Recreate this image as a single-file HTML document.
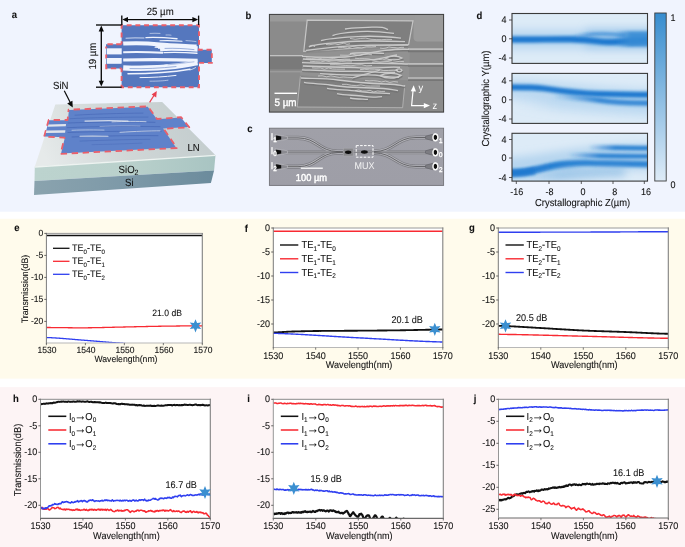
<!DOCTYPE html>
<html lang="en"><head><meta charset="utf-8"><title>Figure</title>
<style>
html,body{margin:0;padding:0;background:#fff;}
body{width:685px;height:547px;overflow:hidden;font-family:"Liberation Sans", sans-serif;}
svg{display:block;position:absolute;left:0;top:0;}
text{white-space:pre;text-rendering:geometricPrecision;}
text:not([fill]){stroke:#111;stroke-width:0.08px;}
</style></head>
<body>
<svg width="685" height="547" viewBox="0 0 685 547" font-family='"Liberation Sans", sans-serif' fill="#111">
<rect x="0" y="0" width="685" height="547" fill="#fff"/>
<rect x="0" y="0" width="685" height="211.7" fill="#f0f4fe"/>
<rect x="0" y="218.8" width="685" height="159.8" fill="#fffbec"/>
<rect x="0" y="387.1" width="685" height="160" fill="#fdf4f5"/>
<g id="pa">
<defs>
<linearGradient id="lnTop" gradientUnits="userSpaceOnUse" x1="185" y1="105" x2="50" y2="168"><stop offset="0" stop-color="#c5cecf"/><stop offset="0.5" stop-color="#d0d7d7"/><stop offset="1" stop-color="#e6eaea"/></linearGradient>
<linearGradient id="sio2" gradientUnits="userSpaceOnUse" x1="35" y1="0" x2="215" y2="0"><stop offset="0" stop-color="#bcd3ce"/><stop offset="0.5" stop-color="#bad1cc"/><stop offset="1" stop-color="#a8c4c2"/></linearGradient>
<linearGradient id="sil" gradientUnits="userSpaceOnUse" x1="35" y1="0" x2="215" y2="0"><stop offset="0" stop-color="#8aa3ae"/><stop offset="0.5" stop-color="#7d99a8"/><stop offset="1" stop-color="#6b8b9c"/></linearGradient>
<filter id="soft" filterUnits="userSpaceOnUse" x="0" y="0" width="240" height="211"><feGaussianBlur stdDeviation="0.45"/></filter>
</defs>
<g filter="url(#soft)">
<polygon points="55.3,104.6 162.2,102.1 215.5,155.2 34.8,166.8" fill="url(#lnTop)"/>
<polygon points="34.8,166.6 215.5,155 214.1,170.5 34.5,181" fill="url(#sio2)"/>
<polygon points="34.5,181 214.1,170.5 210.9,183.1 34,195" fill="url(#sil)"/>
<polyline points="34.8,167 215.5,155.3" fill="none" stroke="#eef3f1" stroke-width="1.3"/>
<polygon points="68.92,110.04 147.73,106.76 156.93,119.36 181.04,117.56 188.6,127.08 163.06,128.38 176.16,147.68 61.05,153.53 64.94,137.27 44.55,136.47 48.97,120.35 67.92,120.35" fill="#5f82ca"/>
<polygon points="68.6,109.7 147.9,106.4 157.1,119 181.2,117.2 189.3,127.4 163.7,128.7 176.8,148 60.6,153.9 64.5,137.6 44.1,136.8 48.7,120 67.6,120" fill="none" stroke="#ea5f6b" stroke-width="1.8" stroke-dasharray="6.4 4.6" stroke-dashoffset="-5" stroke-linejoin="round"/>
<polygon points="48.4,124.4 66,124 65.8,126.3 47.8,126.7" fill="#e0e5ec"/>
<polygon points="46.4,130.6 65.4,130.3 65.1,132.8 45.8,133.1" fill="#e0e5ec"/>
<g id="slabstreaks" transform="translate(0 0.7)">
<path d="M75 114.5 C95 113.3 120 112.6 143 112.4" fill="none" stroke="#4263b4" stroke-width="0.7" stroke-opacity="0.8" stroke-linecap="round"/>
<path d="M70 118 C90 117 125 116.3 148 116.4" fill="none" stroke="#4263b4" stroke-width="0.7" stroke-opacity="0.7" stroke-linecap="round"/>
<path d="M68 122.3 C95 121.3 130 121.2 155 121.6" fill="none" stroke="#4263b4" stroke-width="0.8" stroke-opacity="0.8" stroke-linecap="round"/>
<path d="M67 127 C95 125.6 135 125.6 160 126" fill="none" stroke="#4263b4" stroke-width="0.8" stroke-opacity="0.8" stroke-linecap="round"/>
<path d="M68 131.8 C100 130.6 135 130.4 161 130.8" fill="none" stroke="#4263b4" stroke-width="0.8" stroke-opacity="0.8" stroke-linecap="round"/>
<path d="M72 136.3 C100 135.3 135 134.6 158 135" fill="none" stroke="#4263b4" stroke-width="0.8" stroke-opacity="0.8" stroke-linecap="round"/>
<path d="M80 140.4 C105 139.4 130 138.8 150 138.6" fill="none" stroke="#4263b4" stroke-width="0.7" stroke-opacity="0.7" stroke-linecap="round"/>
<path d="M92 144 C110 143.6 128 143 142 142.4" fill="none" stroke="#4263b4" stroke-width="0.6" stroke-opacity="0.6" stroke-linecap="round"/>
<path d="M85 120.4 C100 119.8 118 119.8 128 120.4" fill="none" stroke="#e4e8ee" stroke-width="1.2" stroke-opacity="0.85" stroke-linecap="round"/>
<path d="M112 121.2 C125 120.6 138 120.6 146 121" fill="none" stroke="#e4e8ee" stroke-width="1" stroke-opacity="0.7" stroke-linecap="round"/>
<path d="M72 129.6 C85 129 95 129.2 104 129.4" fill="none" stroke="#e4e8ee" stroke-width="0.9" stroke-opacity="0.6" stroke-linecap="round"/>
<path d="M80 135.6 C90 135.2 100 135.4 108 135.6" fill="none" stroke="#e4e8ee" stroke-width="1.1" stroke-opacity="0.8" stroke-linecap="round"/>
<path d="M120 131.6 C135 130.6 150 130.2 160 130.2" fill="none" stroke="#e4e8ee" stroke-width="1" stroke-opacity="0.7" stroke-linecap="round"/>
<path d="M100 125.8 C115 125 130 125 140 125.4" fill="none" stroke="#e4e8ee" stroke-width="0.7" stroke-opacity="0.5" stroke-linecap="round"/>
</g>
</g>
<g filter="url(#soft)">
<path d="M121.6 25.2 H199 V49.8 H211.8 V62.9 H199 V87.2 H121.6 V68.4 H106 V44.2 H121.6 Z" fill="#5577be"/>
<path d="M121.6 44.2 V25.2 H199 V49.8 H211.8 V62.9 H199 V87.2 H121.6 V68.4" fill="none" stroke="#ea5f6b" stroke-width="1.9" stroke-dasharray="4.9 3.8" stroke-dashoffset="2"/>
<path d="M121.6 44.2 H106.2 V48.6 M106.2 54.4 V58.4 M106.2 64.2 V68.4 H121.6 M113 44.2 h0.1" fill="none" stroke="#ea5f6b" stroke-width="1.9" stroke-dasharray="5.4 3.4"/>
<rect x="106.7" y="48.3" width="15" height="6.1" fill="#f0f4fe"/>
<rect x="106.7" y="58" width="15" height="5.8" fill="#f0f4fe"/>
<path d="M123.2 43.6 C135 42.8 150 43.4 160 44.4 S185 45.8 196.6 46.4" fill="none" stroke="#f0f4fe" stroke-width="4" stroke-linecap="butt" stroke-opacity="1"/>
<path d="M160 48.4 C170 47.6 185 48.2 197.6 49" fill="none" stroke="#f0f4fe" stroke-width="5.6" stroke-linecap="butt" stroke-opacity="1"/>
<path d="M156 47.6 C158 47.2 160 47.2 162 47.4" fill="none" stroke="#f0f4fe" stroke-width="3" stroke-linecap="round" stroke-opacity="1"/>
<path d="M123.2 52.2 C135 51.8 150 52 163 52.8" fill="none" stroke="#f0f4fe" stroke-width="2" stroke-linecap="butt" stroke-opacity="1"/>
<path d="M164 52.6 C175 52.2 188 52.6 197 53.2" fill="none" stroke="#f0f4fe" stroke-width="1.4" stroke-linecap="round" stroke-opacity="1"/>
<path d="M123.2 60 C150 59.4 175 59.6 197.6 60.4" fill="none" stroke="#f0f4fe" stroke-width="3.2" stroke-linecap="butt" stroke-opacity="1"/>
<path d="M123.2 67.8 C140 68.8 160 68 175 66.2 S190 63.6 197.6 62.6" fill="none" stroke="#f0f4fe" stroke-width="5.4" stroke-linecap="butt" stroke-opacity="1"/>
<path d="M128 73.8 C150 73.6 172 72.2 190 69.2" fill="none" stroke="#f0f4fe" stroke-width="1.5" stroke-linecap="round" stroke-opacity="1"/>
<path d="M140 77.6 C152 77.6 165 76.8 176 75.4" fill="none" stroke="#f0f4fe" stroke-width="1" stroke-linecap="round" stroke-opacity="1"/>
<path d="M150 81.2 C158 81.2 164 80.8 168 80.2" fill="none" stroke="#f0f4fe" stroke-width="0.7" stroke-linecap="round" stroke-opacity="0.8"/>
<path d="M126 38.2 C132 37.8 138 37.8 144 38" fill="none" stroke="#f0f4fe" stroke-width="0.9" stroke-linecap="round" stroke-opacity="0.85"/>
<path d="M146 37.6 C155 37 165 37.6 177 38.8" fill="none" stroke="#f0f4fe" stroke-width="1.4" stroke-linecap="round" stroke-opacity="1"/>
<path d="M160 40.8 C166 40.4 174 40.6 182 41.2" fill="none" stroke="#f0f4fe" stroke-width="1.1" stroke-linecap="round" stroke-opacity="1"/>
<path d="M150 33.4 C153 33.2 157 33.2 160 33.4" fill="none" stroke="#f0f4fe" stroke-width="0.7" stroke-linecap="round" stroke-opacity="0.8"/>
<path d="M166 35 C168 34.9 170 35 171 35.2" fill="none" stroke="#f0f4fe" stroke-width="0.7" stroke-linecap="round" stroke-opacity="0.8"/>
<path d="M186 40.6 C190 40.8 193 41.2 196 41.6" fill="none" stroke="#f0f4fe" stroke-width="0.7" stroke-linecap="round" stroke-opacity="0.8"/>
<path d="M190 70 C192 69.4 194 68.6 195.6 67.6" fill="none" stroke="#f0f4fe" stroke-width="0.9" stroke-linecap="round" stroke-opacity="0.8"/>
<path d="M122 48.6 C135 48 148 48.2 158 49.2" fill="none" stroke="#5577be" stroke-width="2.4" stroke-linecap="butt" stroke-opacity="1"/>
<path d="M122 56.2 C150 55.6 180 56 200 56.6" fill="none" stroke="#5577be" stroke-width="3" stroke-linecap="butt" stroke-opacity="1"/>
<path d="M122 64.4 C135 64.6 150 64.2 164 63.4" fill="none" stroke="#5577be" stroke-width="1.8" stroke-linecap="round" stroke-opacity="1"/>
<path d="M165 48.4 C175 48 185 48.6 194 49.6" fill="none" stroke="#5577be" stroke-width="0.7" stroke-linecap="round" stroke-opacity="0.8"/>
<path d="M130 68.6 C145 69 160 68.2 176 66.6" fill="none" stroke="#5577be" stroke-width="0.7" stroke-linecap="round" stroke-opacity="0.8"/>
<path d="M168 64.8 C178 63.8 186 62.8 194 61.8" fill="none" stroke="#5577be" stroke-width="0.6" stroke-linecap="round" stroke-opacity="0.7"/>
</g>
<g stroke="#0a0a0a" stroke-width="1.35" fill="none">
<line x1="121.8" y1="15.6" x2="121.8" y2="25"/><line x1="198.6" y1="15.6" x2="198.6" y2="25"/>
<line x1="124" y1="19.6" x2="196.4" y2="19.6"/>
<line x1="96" y1="25" x2="121.6" y2="25"/><line x1="96" y1="87.2" x2="121.6" y2="87.2"/>
<line x1="101.3" y1="28" x2="101.3" y2="84"/>
</g>
<g fill="#0a0a0a">
<polygon points="122.3,19.6 128,17 128,22.2"/><polygon points="198.1,19.6 192.4,17 192.4,22.2"/>
<polygon points="101.3,25.6 98.7,31.4 103.9,31.4"/><polygon points="101.3,86.6 98.7,80.8 103.9,80.8"/>
</g>
<text transform="translate(160.2 15.4) scale(1 1.08)" font-size="9.6" text-anchor="middle">25 µm</text>
<text transform="translate(95.6 56.2) rotate(-90) scale(1 1.08)" font-size="9.6" text-anchor="middle">19 µm</text>
<text transform="translate(53 88.8) scale(1 1.08)" font-size="9.6">SiN</text>
<line x1="64.3" y1="90.8" x2="70.6" y2="103.2" stroke="#0a0a0a" stroke-width="1.2"/>
<polygon points="72.8,107.4 67.2,103.6 72.4,100.8" fill="#0a0a0a"/>
<line x1="149.6" y1="102.4" x2="154.4" y2="94.8" stroke="#e8404f" stroke-width="1.2"/>
<polygon points="156.8,91 156.2,97.4 151.6,94.4" fill="#e8404f"/>
<text transform="translate(187.4 151.3) scale(1 1.08)" font-size="9.5">LN</text>
<text transform="translate(118.6 172.6) scale(1 1.08)" font-size="9.6">SiO<tspan dy="1.9" font-size="7">2</tspan></text>
<text transform="translate(125 185.9) scale(1 1.08)" font-size="9.6">Si</text>
<text transform="translate(14.3 18.2) scale(1 1.08)" font-size="9.5" font-weight="bold" text-anchor="middle">a</text>
</g>
<g id="pb">
<defs>
<filter id="sb" filterUnits="userSpaceOnUse" x="260" y="5" width="195" height="115"><feGaussianBlur stdDeviation="0.55"/></filter>
<filter id="sb2" filterUnits="userSpaceOnUse" x="260" y="5" width="195" height="115"><feGaussianBlur stdDeviation="1.6"/></filter>
<clipPath id="cb"><rect x="269.4" y="14.4" width="174.2" height="97.7"/></clipPath>
</defs>
<rect x="269.4" y="14.4" width="174.2" height="97.7" fill="#8b8b8b"/>
<g clip-path="url(#cb)">
<g filter="url(#sb)">
<path d="M413.5 14 L444 14 L444 41.6 L417 41.6 Q413.5 41 413.5 37 Z" fill="#9b9b9b"/>
<path d="M269 13 H415 V21.4 H269 Z" fill="#9a9a9a"/>
</g>
<g filter="url(#sb)">
<polygon points="307.2,20.2 413,20.8 408.6,44.6 303.8,51.4" fill="#7f7f7f" stroke="#c6c6c6" stroke-width="1.2"/>
<polygon points="300.4,76.3 404.8,85 402.6,107.7 297.2,107" fill="#7f7f7f" stroke="none"/>
<polyline points="300.4,76.3 297.2,107 402.6,107.7 404.8,85" fill="none" stroke="#b4b4b4" stroke-width="0.9"/>
<path d="M303 54 C330 52 370 48 410 48 L409 80 C380 80 330 78 300 75 Z" fill="#929292"/>
<rect x="269.4" y="56.4" width="33" height="13" fill="#7a7a7a"/>
<line x1="269.4" y1="55.6" x2="303" y2="55.6" stroke="#c2c2c2" stroke-width="1.1"/>
<line x1="269.4" y1="71.8" x2="302" y2="71.8" stroke="#a2a2a2" stroke-width="1"/>
<line x1="408" y1="49.2" x2="444" y2="49.2" stroke="#bdbdbd" stroke-width="1.7"/>
<line x1="408" y1="51.4" x2="444" y2="51.4" stroke="#767676" stroke-width="1.6"/>
<line x1="408" y1="63.8" x2="444" y2="63.8" stroke="#bdbdbd" stroke-width="1.7"/>
<line x1="408" y1="66" x2="444" y2="66" stroke="#767676" stroke-width="1.6"/>
<line x1="408" y1="78" x2="444" y2="78" stroke="#bdbdbd" stroke-width="1.7"/>
<line x1="408" y1="80.2" x2="444" y2="80.2" stroke="#767676" stroke-width="1.6"/>
<path d="M345 29 C352 27.4 362 27.8 372 27.2 S384 27.6 388 29.6" fill="none" stroke="#707070" stroke-width="1.8" stroke-opacity="0.75" transform="translate(0.3 1.3)"/>
<path d="M332.5 35.6 C338 33 350 32.4 360 31.6 S382 31.8 394 33.4" fill="none" stroke="#707070" stroke-width="1.8" stroke-opacity="0.75" transform="translate(0.3 1.3)"/>
<path d="M321 40.6 C330 38 345 37.4 358 36.6 S385 36.4 401 38.2" fill="none" stroke="#707070" stroke-width="1.8" stroke-opacity="0.75" transform="translate(0.3 1.3)"/>
<path d="M309 46.8 C316 43.6 330 43.4 345 42 S380 40.8 405 41.6" fill="none" stroke="#707070" stroke-width="1.8" stroke-opacity="0.75" transform="translate(0.3 1.3)"/>
<path d="M306 50.4 C318 48.6 335 46.8 352 45.8 S385 45 408 45" fill="none" stroke="#707070" stroke-width="1.8" stroke-opacity="0.75" transform="translate(0.3 1.3)"/>
<path d="M309 46.8 C311 45 313 45 315 46.6" fill="none" stroke="#707070" stroke-width="1.8" stroke-opacity="0.75" transform="translate(0.3 1.3)"/>
<path d="M302 56.4 C315 57.4 330 57.8 345 57 S370 52 385 50.4 S400 49 409 49.4" fill="none" stroke="#707070" stroke-width="1.8" stroke-opacity="0.75" transform="translate(0.3 1.3)"/>
<path d="M303 59 C320 60.4 340 60 360 60.4 S385 57 397 55" fill="none" stroke="#707070" stroke-width="1.8" stroke-opacity="0.75" transform="translate(0.3 1.3)"/>
<path d="M302 62.6 C320 63.2 345 63.8 365 63.4 S395 63.6 408 64" fill="none" stroke="#707070" stroke-width="1.8" stroke-opacity="0.75" transform="translate(0.3 1.3)"/>
<path d="M303 66 C320 67.4 340 66.6 360 67.8 S385 66.4 400 67.4" fill="none" stroke="#707070" stroke-width="1.8" stroke-opacity="0.75" transform="translate(0.3 1.3)"/>
<path d="M302 69.8 C318 70.6 335 71.8 355 71.4 S380 73.4 395 72.6" fill="none" stroke="#707070" stroke-width="1.8" stroke-opacity="0.75" transform="translate(0.3 1.3)"/>
<path d="M320 73.6 C335 74.4 350 75.6 365 75 S385 77.6 399 77.4" fill="none" stroke="#707070" stroke-width="1.8" stroke-opacity="0.75" transform="translate(0.3 1.3)"/>
<path d="M350 53.6 C360 52 372 52.8 384 53.4" fill="none" stroke="#707070" stroke-width="1.8" stroke-opacity="0.75" transform="translate(0.3 1.3)"/>
<path d="M352 78 C362 75 372 72.4 380 70" fill="none" stroke="#707070" stroke-width="1.8" stroke-opacity="0.75" transform="translate(0.3 1.3)"/>
<path d="M385 58 C390 55.6 398 55.6 402 58 C398 60.6 390 60.6 385 58 Z" fill="none" stroke="#707070" stroke-width="1.8" stroke-opacity="0.75" transform="translate(0.3 1.3)"/>
<path d="M380 75.6 C386 72.4 396 72.8 401 75.4 C396 79 386 79 380 75.6 Z" fill="none" stroke="#707070" stroke-width="1.8" stroke-opacity="0.75" transform="translate(0.3 1.3)"/>
<path d="M396 70 C398 68.4 401 68.6 402 70.4 C401 72.4 398 72.4 396 70 Z" fill="none" stroke="#707070" stroke-width="1.8" stroke-opacity="0.75" transform="translate(0.3 1.3)"/>
<path d="M301 78 C312 78.6 325 78.2 338 80 S370 83.4 385 84 S398 85 405 86" fill="none" stroke="#707070" stroke-width="1.8" stroke-opacity="0.75" transform="translate(0.3 1.3)"/>
<path d="M304 82.4 C312 84 322 83.6 330 85 S355 87.6 372 88 S390 89.6 398 90.6" fill="none" stroke="#707070" stroke-width="1.8" stroke-opacity="0.75" transform="translate(0.3 1.3)"/>
<path d="M327 88.4 C336 90 348 89.8 358 91.4 S380 93 390 93.6" fill="none" stroke="#707070" stroke-width="1.8" stroke-opacity="0.75" transform="translate(0.3 1.3)"/>
<path d="M337 93.6 C345 95.4 355 95 364 96.4 S376 97 382 96.6" fill="none" stroke="#707070" stroke-width="1.8" stroke-opacity="0.75" transform="translate(0.3 1.3)"/>
<path d="M350 98 C356 99.2 362 99 368 99.4" fill="none" stroke="#707070" stroke-width="1.8" stroke-opacity="0.75" transform="translate(0.3 1.3)"/>
<path d="M345 29 C352 27.4 362 27.8 372 27.2 S384 27.6 388 29.6" fill="none" stroke="#cacaca" stroke-width="1.3"/>
<path d="M332.5 35.6 C338 33 350 32.4 360 31.6 S382 31.8 394 33.4" fill="none" stroke="#cacaca" stroke-width="1.3"/>
<path d="M321 40.6 C330 38 345 37.4 358 36.6 S385 36.4 401 38.2" fill="none" stroke="#cacaca" stroke-width="1.3"/>
<path d="M309 46.8 C316 43.6 330 43.4 345 42 S380 40.8 405 41.6" fill="none" stroke="#cacaca" stroke-width="1.3"/>
<path d="M306 50.4 C318 48.6 335 46.8 352 45.8 S385 45 408 45" fill="none" stroke="#cacaca" stroke-width="1.3"/>
<path d="M309 46.8 C311 45 313 45 315 46.6" fill="none" stroke="#cacaca" stroke-width="1.3"/>
<path d="M302 56.4 C315 57.4 330 57.8 345 57 S370 52 385 50.4 S400 49 409 49.4" fill="none" stroke="#cacaca" stroke-width="1.3"/>
<path d="M303 59 C320 60.4 340 60 360 60.4 S385 57 397 55" fill="none" stroke="#cacaca" stroke-width="1.3"/>
<path d="M302 62.6 C320 63.2 345 63.8 365 63.4 S395 63.6 408 64" fill="none" stroke="#cacaca" stroke-width="1.3"/>
<path d="M303 66 C320 67.4 340 66.6 360 67.8 S385 66.4 400 67.4" fill="none" stroke="#cacaca" stroke-width="1.3"/>
<path d="M302 69.8 C318 70.6 335 71.8 355 71.4 S380 73.4 395 72.6" fill="none" stroke="#cacaca" stroke-width="1.3"/>
<path d="M320 73.6 C335 74.4 350 75.6 365 75 S385 77.6 399 77.4" fill="none" stroke="#cacaca" stroke-width="1.3"/>
<path d="M350 53.6 C360 52 372 52.8 384 53.4" fill="none" stroke="#cacaca" stroke-width="1.3"/>
<path d="M352 78 C362 75 372 72.4 380 70" fill="none" stroke="#cacaca" stroke-width="1.3"/>
<path d="M385 58 C390 55.6 398 55.6 402 58 C398 60.6 390 60.6 385 58 Z" fill="none" stroke="#cacaca" stroke-width="1.3"/>
<path d="M380 75.6 C386 72.4 396 72.8 401 75.4 C396 79 386 79 380 75.6 Z" fill="none" stroke="#cacaca" stroke-width="1.3"/>
<path d="M396 70 C398 68.4 401 68.6 402 70.4 C401 72.4 398 72.4 396 70 Z" fill="none" stroke="#cacaca" stroke-width="1.3"/>
<path d="M301 78 C312 78.6 325 78.2 338 80 S370 83.4 385 84 S398 85 405 86" fill="none" stroke="#cacaca" stroke-width="1.3"/>
<path d="M304 82.4 C312 84 322 83.6 330 85 S355 87.6 372 88 S390 89.6 398 90.6" fill="none" stroke="#cacaca" stroke-width="1.3"/>
<path d="M327 88.4 C336 90 348 89.8 358 91.4 S380 93 390 93.6" fill="none" stroke="#cacaca" stroke-width="1.3"/>
<path d="M337 93.6 C345 95.4 355 95 364 96.4 S376 97 382 96.6" fill="none" stroke="#cacaca" stroke-width="1.3"/>
<path d="M350 98 C356 99.2 362 99 368 99.4" fill="none" stroke="#cacaca" stroke-width="1.3"/>
<path d="M306 58.05 L311.5 58.44 L317 58.09 L322.5 58.77 L328 58.98 L333.5 58.5 L339 59.66 L344.5 59.09 L350 59.16" fill="none" stroke="#d2d2d2" stroke-width="0.9" stroke-opacity="0.85"/>
<path d="M310 61.22 L315.25 61.65 L320.5 61.95 L325.75 60.93 L331 61.93 L336.25 62.19 L341.5 61.6 L346.75 62.03 L352 61.91" fill="none" stroke="#d2d2d2" stroke-width="0.9" stroke-opacity="0.85"/>
<path d="M330 64.7 L335.25 64.68 L340.5 65.01 L345.75 65.5 L351 65.8 L356.25 65 L361.5 64.68 L366.75 65.88 L372 65.52" fill="none" stroke="#d2d2d2" stroke-width="0.9" stroke-opacity="0.85"/>
<path d="M355 58.18 L359.62 58.68 L364.25 58.65 L368.88 58.88 L373.5 60.39 L378.12 59.71 L382.75 59.2 L387.38 60.26 L392 60.64" fill="none" stroke="#d2d2d2" stroke-width="0.9" stroke-opacity="0.85"/>
<path d="M360 69.61 L364.75 69.28 L369.5 69.84 L374.25 69.73 L379 69.39 L383.75 70.59 L388.5 70.44 L393.25 70.18 L398 70.43" fill="none" stroke="#d2d2d2" stroke-width="0.9" stroke-opacity="0.85"/>
<path d="M312 67.85 L316.12 68.16 L320.25 67.96 L324.38 69.21 L328.5 68 L332.62 68.96 L336.75 69.08 L340.88 69.13 L345 69.13" fill="none" stroke="#d2d2d2" stroke-width="0.9" stroke-opacity="0.85"/>
<path d="M340 55.12 L344 55.22 L348 55.25 L352 54.09 L356 54.8 L360 55.47 L364 54.41 L368 54.26 L372 54.72" fill="none" stroke="#d2d2d2" stroke-width="0.9" stroke-opacity="0.85"/>
<path d="M372 62.31 L376 61.55 L380 62.23 L384 61.72 L388 61.54 L392 62.48 L396 61.85 L400 61.25 L404 61.74" fill="none" stroke="#d2d2d2" stroke-width="0.9" stroke-opacity="0.85"/>
<path d="M318 76 L322.25 75.63 L326.5 76.85 L330.75 75.83 L335 76.6 L339.25 77.41 L343.5 76.84 L347.75 77.31 L352 77.56" fill="none" stroke="#d2d2d2" stroke-width="0.9" stroke-opacity="0.85"/>
<path d="M365 80.4 L369.12 80.86 L373.25 80.61 L377.38 81.06 L381.5 81.95 L385.62 81.08 L389.75 82.47 L393.88 81.57 L398 82.07" fill="none" stroke="#d2d2d2" stroke-width="0.9" stroke-opacity="0.85"/>
<path d="M338 47.78 L342.75 47.46 L347.5 48.1 L352.25 46.49 L357 47.39 L361.75 48.01 L366.5 46.65 L371.25 46.83 L376 46.56" fill="none" stroke="#d2d2d2" stroke-width="0.9" stroke-opacity="0.85"/>
<path d="M350 38.42 L355.25 39.28 L360.5 38.49 L365.75 38.15 L371 39.25 L376.25 39.6 L381.5 39.69 L386.75 39.37 L392 39.46" fill="none" stroke="#d2d2d2" stroke-width="0.9" stroke-opacity="0.85"/>
<path d="M326 44.48 L329 44.83 L332 44.31 L335 43.88 L338 44.64 L341 43.9 L344 43.1 L347 44.33 L350 43.8" fill="none" stroke="#d2d2d2" stroke-width="0.9" stroke-opacity="0.85"/>
<path d="M380 48.08 L383 48.45 L386 48.02 L389 46.95 L392 47.5 L395 47.61 L398 48.05 L401 47.33 L404 47.33" fill="none" stroke="#d2d2d2" stroke-width="0.9" stroke-opacity="0.85"/>
<path d="M342 84.4 L346.75 84.35 L351.5 85.33 L356.25 85.64 L361 84.85 L365.75 85.94 L370.5 86.08 L375.25 86 L380 86.06" fill="none" stroke="#d2d2d2" stroke-width="0.9" stroke-opacity="0.85"/>
<path d="M355 90.69 L358.75 90.03 L362.5 91.07 L366.25 91.06 L370 90.33 L373.75 92 L377.5 90.96 L381.25 91.48 L385 91.37" fill="none" stroke="#d2d2d2" stroke-width="0.9" stroke-opacity="0.85"/>
</g>
</g>
<rect x="269.4" y="14.4" width="174.2" height="97.7" fill="none" stroke="#3e3e3e" stroke-width="1"/>
<line x1="274.5" y1="93.3" x2="297" y2="93.3" stroke="#fff" stroke-width="1.4"/>
<text transform="translate(274.4 106.2) scale(1 1.08)" font-size="9.9" fill="#fff" stroke="#fff" stroke-width="0.35">5 µm</text>
<polyline points="413.2,89 411.6,105.6 425,105.6" fill="none" stroke="#fff" stroke-width="1.2"/>
<polygon points="413.7,85.2 416,91.6 410.8,91.2" fill="#fff"/>
<polygon points="430,105.6 423.8,103 423.8,108.2" fill="#fff"/>
<text transform="translate(418.6 91.4) scale(1 1.08)" font-size="9.4" fill="#fff">y</text>
<text transform="translate(432.4 109.2) scale(1 1.08)" font-size="9.4" fill="#fff">z</text>
<text transform="translate(248.3 18.6) scale(1 1.08)" font-size="9.5" font-weight="bold" text-anchor="middle">b</text>
</g>
<g id="pc">
<defs>
<filter id="sc" filterUnits="userSpaceOnUse" x="260" y="120" width="195" height="75"><feGaussianBlur stdDeviation="0.5"/></filter>
<linearGradient id="cbgc" x1="0" y1="0" x2="0" y2="1"><stop offset="0" stop-color="#a0a0a8"/><stop offset="1" stop-color="#9e9ea7"/></linearGradient>
</defs>
<rect x="269.4" y="128.2" width="174.2" height="57.2" fill="url(#cbgc)" stroke="#737378" stroke-width="0.9"/>
<g filter="url(#sc)">
<path d="M284 137.9 H298 C317 137.9 319 151.4 338 151.6 H343" fill="none" stroke="#74747a" stroke-width="4.2" stroke-opacity="0.75"/>
<path d="M284 152.1 H345" fill="none" stroke="#74747a" stroke-width="4.2" stroke-opacity="0.75"/>
<path d="M284 166.7 H298 C317 166.7 319 152.8 338 152.6 H343" fill="none" stroke="#74747a" stroke-width="4.2" stroke-opacity="0.75"/>
<path d="M374 151.6 C394 151.4 396 137.5 416 137.5 H431" fill="none" stroke="#74747a" stroke-width="4.2" stroke-opacity="0.75"/>
<path d="M353 152.1 H431" fill="none" stroke="#74747a" stroke-width="4.2" stroke-opacity="0.75"/>
<path d="M374 152.8 C394 153 396 166.5 416 166.5 H431" fill="none" stroke="#74747a" stroke-width="4.2" stroke-opacity="0.75"/>
<path d="M284 137.9 H298 C317 137.9 319 151.4 338 151.6 H343" fill="none" stroke="#b4b4ba" stroke-width="2.6"/>
<path d="M284 152.1 H345" fill="none" stroke="#b4b4ba" stroke-width="2.6"/>
<path d="M284 166.7 H298 C317 166.7 319 152.8 338 152.6 H343" fill="none" stroke="#b4b4ba" stroke-width="2.6"/>
<path d="M374 151.6 C394 151.4 396 137.5 416 137.5 H431" fill="none" stroke="#b4b4ba" stroke-width="2.6"/>
<path d="M353 152.1 H431" fill="none" stroke="#b4b4ba" stroke-width="2.6"/>
<path d="M374 152.8 C394 153 396 166.5 416 166.5 H431" fill="none" stroke="#b4b4ba" stroke-width="2.6"/>
<path d="M284 137.9 H298 C317 137.9 319 151.4 338 151.6 H343" fill="none" stroke="#5c5c60" stroke-width="0.9"/>
<path d="M284 152.1 H345" fill="none" stroke="#5c5c60" stroke-width="0.9"/>
<path d="M284 166.7 H298 C317 166.7 319 152.8 338 152.6 H343" fill="none" stroke="#5c5c60" stroke-width="0.9"/>
<path d="M374 151.6 C394 151.4 396 137.5 416 137.5 H431" fill="none" stroke="#5c5c60" stroke-width="0.9"/>
<path d="M353 152.1 H431" fill="none" stroke="#5c5c60" stroke-width="0.9"/>
<path d="M374 152.8 C394 153 396 166.5 416 166.5 H431" fill="none" stroke="#5c5c60" stroke-width="0.9"/>
<polygon points="275,134.4 287.5,136.6 287.5,139.2 275,141.4" fill="#8a8a90" stroke="#b6b6bb" stroke-width="0.7"/>
<polygon points="276.1,135.5 281.2,136.4 281.2,139.4 276.1,140.3" fill="#0a0a0a"/>
<polygon points="275,148.6 287.5,150.8 287.5,153.4 275,155.6" fill="#8a8a90" stroke="#b6b6bb" stroke-width="0.7"/>
<polygon points="276.1,149.7 281.2,150.6 281.2,153.6 276.1,154.5" fill="#0a0a0a"/>
<polygon points="275,163.2 287.5,165.4 287.5,168 275,170.2" fill="#8a8a90" stroke="#b6b6bb" stroke-width="0.7"/>
<polygon points="276.1,164.3 281.2,165.2 281.2,168.2 276.1,169.1" fill="#0a0a0a"/>
<rect x="343.2" y="148.2" width="10" height="7.8" fill="#88888c" stroke="#a8a8ac" stroke-width="0.6"/>
<ellipse cx="348.2" cy="152.2" rx="3.2" ry="1.7" fill="#0c0c0c"/>
<ellipse cx="364.4" cy="152" rx="3.4" ry="1.7" fill="#0c0c0c"/>
<polygon points="425.5,136.3 432.6,134.3 432.6,140.7 425.5,138.7" fill="#7c7c82" stroke="#606066" stroke-width="0.6"/>
<ellipse cx="435.4" cy="137.5" rx="2.6" ry="3.2" fill="#0a0a0a"/>
<polygon points="425.5,150.8 432.6,148.8 432.6,155.2 425.5,153.2" fill="#7c7c82" stroke="#606066" stroke-width="0.6"/>
<ellipse cx="435.4" cy="152" rx="2.6" ry="3.2" fill="#0a0a0a"/>
<polygon points="425.5,165.3 432.6,163.3 432.6,169.7 425.5,167.7" fill="#7c7c82" stroke="#606066" stroke-width="0.6"/>
<ellipse cx="435.4" cy="166.5" rx="2.6" ry="3.2" fill="#0a0a0a"/>
</g>
<rect x="356.2" y="145.6" width="16.8" height="11.6" fill="none" stroke="#fff" stroke-width="1" stroke-dasharray="2.6 1.3"/>
<text transform="translate(364.6 169.3) scale(1 1.08)" font-size="9" fill="#f4f4f4" text-anchor="middle">MUX</text>
<line x1="300.8" y1="168.2" x2="322.8" y2="168.2" stroke="#fff" stroke-width="1.3"/>
<text transform="translate(311.4 181) scale(1 1.08)" font-size="9.3" fill="#fff" stroke="#fff" stroke-width="0.4" text-anchor="middle">100 µm</text>
<text transform="translate(270.7 139.8) scale(1 1.08)" font-size="9" fill="#fff" stroke="#fff" stroke-width="0.25">I<tspan dy="2" font-size="6.3">1</tspan></text>
<text transform="translate(270.7 154) scale(1 1.08)" font-size="9" fill="#fff" stroke="#fff" stroke-width="0.25">I<tspan dy="2" font-size="6.3">0</tspan></text>
<text transform="translate(270.7 168.6) scale(1 1.08)" font-size="9" fill="#fff" stroke="#fff" stroke-width="0.25">I<tspan dy="2" font-size="6.3">2</tspan></text>
<text transform="translate(435.45 141.15) scale(0.84 1.1)" text-anchor="middle" font-size="9.6" fill="#fff" stroke="#fff" stroke-width="0.55">O</text>
<text transform="translate(435.45 155.65) scale(0.84 1.1)" text-anchor="middle" font-size="9.6" fill="#fff" stroke="#fff" stroke-width="0.55">O</text>
<text transform="translate(435.45 170.15) scale(0.84 1.1)" text-anchor="middle" font-size="9.6" fill="#fff" stroke="#fff" stroke-width="0.55">O</text>
<text transform="translate(439 142.7) scale(1 1.08)" font-size="6.3" fill="#fff" stroke="#fff" stroke-width="0.25">1</text>
<text transform="translate(439 157.2) scale(1 1.08)" font-size="6.3" fill="#fff" stroke="#fff" stroke-width="0.25">0</text>
<text transform="translate(439 171.7) scale(1 1.08)" font-size="6.3" fill="#fff" stroke="#fff" stroke-width="0.25">2</text>
<text transform="translate(250 132.2) scale(1 1.08)" font-size="9.5" font-weight="bold" text-anchor="middle">c</text>
</g>
<g id="pd">
<defs><filter id="hb" filterUnits="userSpaceOnUse" x="490" y="0" width="180" height="200"><feGaussianBlur stdDeviation="1.7"/></filter><filter id="hb2" filterUnits="userSpaceOnUse" x="490" y="0" width="180" height="200"><feGaussianBlur stdDeviation="4"/></filter><linearGradient id="cbg" x1="0" y1="0" x2="0" y2="1"><stop offset="0" stop-color="#378dcf"/><stop offset="0.5" stop-color="#8bbce2"/><stop offset="1" stop-color="#deebf7"/></linearGradient></defs>
<defs><linearGradient id="g0" gradientUnits="userSpaceOnUse" x1="570" y1="0" x2="590" y2="0"><stop offset="0" stop-color="#1b78cf" stop-opacity="0"/><stop offset="1" stop-color="#1b78cf" stop-opacity="0.6"/></linearGradient><linearGradient id="g1" gradientUnits="userSpaceOnUse" x1="615" y1="0" x2="630" y2="0"><stop offset="0" stop-color="#348ad4" stop-opacity="0"/><stop offset="1" stop-color="#348ad4" stop-opacity="0.9"/></linearGradient><linearGradient id="g2" gradientUnits="userSpaceOnUse" x1="553" y1="0" x2="600" y2="0"><stop offset="0" stop-color="#1b78cf" stop-opacity="0"/><stop offset="1" stop-color="#1b78cf" stop-opacity="0.95"/></linearGradient><linearGradient id="g3" gradientUnits="userSpaceOnUse" x1="512" y1="0" x2="560" y2="0"><stop offset="0" stop-color="#8fc0e8" stop-opacity="0"/><stop offset="1" stop-color="#8fc0e8" stop-opacity="0.3"/></linearGradient><linearGradient id="g4" gradientUnits="userSpaceOnUse" x1="580" y1="0" x2="545" y2="0"><stop offset="0" stop-color="#1b78cf" stop-opacity="0"/><stop offset="1" stop-color="#1b78cf" stop-opacity="0.6"/></linearGradient><linearGradient id="g5" gradientUnits="userSpaceOnUse" x1="568" y1="0" x2="600" y2="0"><stop offset="0" stop-color="#1b78cf" stop-opacity="0"/><stop offset="1" stop-color="#1b78cf" stop-opacity="0.9"/></linearGradient><linearGradient id="g6" gradientUnits="userSpaceOnUse" x1="588" y1="0" x2="615" y2="0"><stop offset="0" stop-color="#1b78cf" stop-opacity="0"/><stop offset="1" stop-color="#1b78cf" stop-opacity="0.9"/></linearGradient><linearGradient id="g7" gradientUnits="userSpaceOnUse" x1="530" y1="0" x2="560" y2="0"><stop offset="0" stop-color="#5a9fd8" stop-opacity="0"/><stop offset="1" stop-color="#5a9fd8" stop-opacity="0.5"/></linearGradient></defs>
<clipPath id="cd0"><rect x="512" y="13.5" width="135.5" height="49.9"/></clipPath>
<rect x="512" y="13.5" width="135.5" height="49.9" fill="#ddebf7"/>
<g clip-path="url(#cd0)">
<g filter="url(#hb2)"><path d="M505 39.5 L655 39.5" fill="none" stroke="#8fc0e8" stroke-width="20" stroke-opacity="0.45" stroke-linecap="butt"/></g>
<g filter="url(#hb2)"><path d="M585 38.5 L655 38.5" fill="none" stroke="#8fc0e8" stroke-width="20" stroke-opacity="0.5" stroke-linecap="butt"/></g>
<g filter="url(#hb)"><path d="M505 39.3 C530 40 550 39 570 39.2 C585 39.3 595 41.6 608 42 C620 42.3 630 40.5 655 39.8" fill="none" stroke="#1b78cf" stroke-width="6.4" stroke-opacity="1" stroke-linecap="butt"/></g>
<g filter="url(#hb)"><path d="M570 37.5 C588 33.2 605 32.8 626 35.5" fill="none" stroke="url(#g0)" stroke-width="3.6"/></g>
<g filter="url(#hb)"><path d="M615 39 L655 39" fill="none" stroke="url(#g1)" stroke-width="15.5"/></g>
</g>
<rect x="512" y="13.5" width="135.5" height="49.9" fill="none" stroke="#3a3a3a" stroke-width="1.1"/>
<line x1="509" x2="512" y1="20" y2="20" stroke="#333" stroke-width="0.8"/>
<text transform="translate(506.5 23.25) scale(1 1.08)" font-size="9" text-anchor="end">4</text>
<line x1="509" x2="512" y1="38.8" y2="38.8" stroke="#333" stroke-width="0.8"/>
<text transform="translate(506.5 42.05) scale(1 1.08)" font-size="9" text-anchor="end">0</text>
<line x1="509" x2="512" y1="58" y2="58" stroke="#333" stroke-width="0.8"/>
<text transform="translate(506.5 61.25) scale(1 1.08)" font-size="9" text-anchor="end">-4</text>
<clipPath id="cd1"><rect x="512" y="73.4" width="135.5" height="50"/></clipPath>
<rect x="512" y="73.4" width="135.5" height="50" fill="#ddebf7"/>
<g clip-path="url(#cd1)">
<g filter="url(#hb2)"><path d="M505 89 C560 90 600 99 655 99" fill="none" stroke="#8fc0e8" stroke-width="20" stroke-opacity="0.4" stroke-linecap="butt"/></g>
<g filter="url(#hb)"><path d="M505 87.3 C525 87.2 535 87.3 545 88.6 C565 91.6 580 93.3 600 94.1 C620 94.7 640 94.8 655 94.8" fill="none" stroke="#1b78cf" stroke-width="6" stroke-opacity="1" stroke-linecap="butt"/></g>
<g filter="url(#hb)"><path d="M550 96 C575 97 595 99.8 610 101.6 C625 103 640 103.2 655 103.2" fill="none" stroke="url(#g2)" stroke-width="5.4"/></g>
<g filter="url(#hb2)"><path d="M512 100 C560 104 600 110 655 110" fill="none" stroke="url(#g3)" stroke-width="14"/></g>
</g>
<rect x="512" y="73.4" width="135.5" height="50" fill="none" stroke="#3a3a3a" stroke-width="1.1"/>
<line x1="509" x2="512" y1="80.8" y2="80.8" stroke="#333" stroke-width="0.8"/>
<text transform="translate(506.5 84.05) scale(1 1.08)" font-size="9" text-anchor="end">4</text>
<line x1="509" x2="512" y1="99.8" y2="99.8" stroke="#333" stroke-width="0.8"/>
<text transform="translate(506.5 103.05) scale(1 1.08)" font-size="9" text-anchor="end">0</text>
<line x1="509" x2="512" y1="119" y2="119" stroke="#333" stroke-width="0.8"/>
<text transform="translate(506.5 122.25) scale(1 1.08)" font-size="9" text-anchor="end">-4</text>
<clipPath id="cd2"><rect x="512" y="133.3" width="135.5" height="47.8"/></clipPath>
<rect x="512" y="133.3" width="135.5" height="47.8" fill="#ddebf7"/>
<g clip-path="url(#cd2)">
<g filter="url(#hb2)"><path d="M505 171 C560 166 580 157 655 157" fill="none" stroke="#8fc0e8" stroke-width="26" stroke-opacity="0.5" stroke-linecap="butt"/></g>
<g filter="url(#hb)"><path d="M505 173 C525 173 535 170 550 166.2 C565 163 575 162.8 590 163 C610 163.4 630 164.2 655 164.2" fill="none" stroke="#1b78cf" stroke-width="6.2" stroke-opacity="0.86" stroke-linecap="butt"/></g>
<g filter="url(#hb)"><path d="M580 166.8 C560 162.6 540 169.6 525 172.4 C515 173.4 510 173.2 500 173" fill="none" stroke="url(#g4)" stroke-width="6"/></g>
<g filter="url(#hb)"><path d="M505 173.2 C515 173.4 525 172.6 535 171" fill="none" stroke="#1b78cf" stroke-width="7.5" stroke-opacity="0.7" stroke-linecap="butt"/></g>
<g filter="url(#hb)"><path d="M565 155 C595 155.6 620 156.3 655 156.3" fill="none" stroke="url(#g5)" stroke-width="4.6"/></g>
<g filter="url(#hb)"><path d="M585 147.4 C615 148 630 148.2 655 148.2" fill="none" stroke="url(#g6)" stroke-width="4.8"/></g>
<g filter="url(#hb2)"><path d="M530 178 C570 177 590 173 625 172.5" fill="none" stroke="url(#g7)" stroke-width="7"/></g>
</g>
<rect x="512" y="133.3" width="135.5" height="47.8" fill="none" stroke="#3a3a3a" stroke-width="1.1"/>
<line x1="509" x2="512" y1="139.5" y2="139.5" stroke="#333" stroke-width="0.8"/>
<text transform="translate(506.5 142.75) scale(1 1.08)" font-size="9" text-anchor="end">4</text>
<line x1="509" x2="512" y1="158" y2="158" stroke="#333" stroke-width="0.8"/>
<text transform="translate(506.5 161.25) scale(1 1.08)" font-size="9" text-anchor="end">0</text>
<line x1="509" x2="512" y1="177.5" y2="177.5" stroke="#333" stroke-width="0.8"/>
<text transform="translate(506.5 180.75) scale(1 1.08)" font-size="9" text-anchor="end">-4</text>
<line x1="516.3" x2="516.3" y1="181.1" y2="184" stroke="#333" stroke-width="0.8"/>
<text transform="translate(516.7 194.6) scale(1 1.08)" font-size="9" text-anchor="middle">-16</text>
<line x1="549" x2="549" y1="181.1" y2="184" stroke="#333" stroke-width="0.8"/>
<text transform="translate(549.4 194.6) scale(1 1.08)" font-size="9" text-anchor="middle">-8</text>
<line x1="581.3" x2="581.3" y1="181.1" y2="184" stroke="#333" stroke-width="0.8"/>
<text transform="translate(583 194.6) scale(1 1.08)" font-size="9" text-anchor="middle">0</text>
<line x1="613" x2="613" y1="181.1" y2="184" stroke="#333" stroke-width="0.8"/>
<text transform="translate(614.7 194.6) scale(1 1.08)" font-size="9" text-anchor="middle">8</text>
<line x1="644.3" x2="644.3" y1="181.1" y2="184" stroke="#333" stroke-width="0.8"/>
<text transform="translate(646 194.6) scale(1 1.08)" font-size="9" text-anchor="middle">16</text>
<text transform="translate(582.6 205.6) scale(1 1.08)" font-size="9.4" text-anchor="middle">Crystallographic Z(µm)</text>
<text transform="translate(489.3 98.6) rotate(-90) scale(1 1.08)" font-size="9.45" text-anchor="middle">Crystallographic Y(µm)</text>
<rect x="654.8" y="13" width="11.4" height="168" fill="url(#cbg)" stroke="#3c3c3c" stroke-width="0.9"/>
<text transform="translate(670.5 21) scale(1 1.08)" font-size="9">1</text>
<text transform="translate(670.5 187.6) scale(1 1.08)" font-size="9">0</text>
<text transform="translate(479.5 19.2) scale(1 1.08)" font-size="9.5" font-weight="bold" text-anchor="middle">d</text>
</g>
<g id="pe">
<rect x="46.4" y="233.4" width="155.9" height="109.6" fill="#fff"/>
<clipPath id="cp_pe"><rect x="46.4" y="232.4" width="155.9" height="110.6"/></clipPath>
<g clip-path="url(#cp_pe)">
<path d="M46.4 235.4 L202.3 235.4" fill="none" stroke="#111" stroke-width="1.5" stroke-linejoin="round" stroke-linecap="butt"/>
<path d="M46.4 327.5 L47.18 327.5 L47.96 327.51 L48.74 327.51 L49.52 327.52 L50.3 327.52 L51.08 327.53 L51.86 327.54 L52.64 327.54 L53.42 327.55 L54.2 327.56 L54.97 327.57 L55.75 327.58 L56.53 327.59 L57.31 327.59 L58.09 327.6 L58.87 327.61 L59.65 327.62 L60.43 327.63 L61.21 327.64 L61.99 327.65 L62.77 327.66 L63.55 327.67 L64.33 327.68 L65.11 327.69 L65.89 327.7 L66.67 327.71 L67.45 327.72 L68.23 327.73 L69.01 327.74 L69.78 327.75 L70.56 327.76 L71.34 327.76 L72.12 327.77 L72.9 327.78 L73.68 327.78 L74.46 327.79 L75.24 327.79 L76.02 327.8 L76.8 327.8 L77.58 327.81 L78.36 327.81 L79.14 327.81 L79.92 327.81 L80.7 327.81 L81.48 327.81 L82.26 327.81 L83.04 327.81 L83.82 327.81 L84.6 327.8 L85.38 327.8 L86.15 327.79 L86.93 327.78 L87.71 327.78 L88.49 327.77 L89.27 327.76 L90.05 327.75 L90.83 327.74 L91.61 327.73 L92.39 327.72 L93.17 327.7 L93.95 327.69 L94.73 327.68 L95.51 327.66 L96.29 327.65 L97.07 327.63 L97.85 327.62 L98.63 327.6 L99.41 327.59 L100.19 327.57 L100.97 327.55 L101.74 327.53 L102.52 327.52 L103.3 327.5 L104.08 327.48 L104.86 327.46 L105.64 327.44 L106.42 327.42 L107.2 327.4 L107.98 327.38 L108.76 327.36 L109.54 327.34 L110.32 327.32 L111.1 327.3 L111.88 327.29 L112.66 327.27 L113.44 327.25 L114.22 327.23 L115 327.21 L115.78 327.19 L116.56 327.17 L117.33 327.15 L118.11 327.13 L118.89 327.11 L119.67 327.09 L120.45 327.08 L121.23 327.06 L122.01 327.04 L122.79 327.03 L123.57 327.01 L124.35 326.99 L125.13 326.98 L125.91 326.96 L126.69 326.94 L127.47 326.93 L128.25 326.91 L129.03 326.89 L129.81 326.88 L130.59 326.86 L131.37 326.84 L132.15 326.83 L132.92 326.81 L133.7 326.79 L134.48 326.77 L135.26 326.76 L136.04 326.74 L136.82 326.72 L137.6 326.71 L138.38 326.69 L139.16 326.67 L139.94 326.65 L140.72 326.64 L141.5 326.62 L142.28 326.6 L143.06 326.58 L143.84 326.57 L144.62 326.55 L145.4 326.53 L146.18 326.52 L146.96 326.5 L147.73 326.48 L148.51 326.47 L149.29 326.45 L150.07 326.44 L150.85 326.42 L151.63 326.4 L152.41 326.39 L153.19 326.37 L153.97 326.36 L154.75 326.34 L155.53 326.33 L156.31 326.31 L157.09 326.3 L157.87 326.29 L158.65 326.27 L159.43 326.26 L160.21 326.24 L160.99 326.23 L161.77 326.22 L162.55 326.21 L163.32 326.2 L164.1 326.18 L164.88 326.17 L165.66 326.16 L166.44 326.15 L167.22 326.14 L168 326.13 L168.78 326.12 L169.56 326.11 L170.34 326.09 L171.12 326.08 L171.9 326.07 L172.68 326.06 L173.46 326.05 L174.24 326.04 L175.02 326.04 L175.8 326.03 L176.58 326.02 L177.36 326.01 L178.14 326 L178.91 325.99 L179.69 325.98 L180.47 325.97 L181.25 325.96 L182.03 325.96 L182.81 325.95 L183.59 325.94 L184.37 325.93 L185.15 325.93 L185.93 325.92 L186.71 325.91 L187.49 325.9 L188.27 325.9 L189.05 325.89 L189.83 325.88 L190.61 325.88 L191.39 325.87 L192.17 325.86 L192.95 325.86 L193.73 325.85 L194.5 325.85 L195.28 325.84 L196.06 325.84 L196.84 325.83 L197.62 325.83 L198.4 325.82 L199.18 325.82 L199.96 325.81 L200.74 325.81 L201.52 325.8 L202.3 325.8" fill="none" stroke="#f82a32" stroke-width="1.3" stroke-linejoin="round" stroke-linecap="butt"/>
<path d="M46.4 337.5 L46.87 337.52 L47.34 337.54 L47.8 337.55 L48.27 337.57 L48.74 337.59 L49.21 337.62 L49.68 337.64 L50.14 337.66 L50.61 337.68 L51.08 337.71 L51.55 337.73 L52.02 337.76 L52.48 337.78 L52.95 337.81 L53.42 337.84 L53.89 337.87 L54.36 337.89 L54.82 337.92 L55.29 337.95 L55.76 337.98 L56.23 338.01 L56.7 338.04 L57.16 338.07 L57.63 338.11 L58.1 338.14 L58.57 338.17 L59.04 338.21 L59.5 338.24 L59.97 338.27 L60.44 338.31 L60.91 338.34 L61.38 338.38 L61.84 338.41 L62.31 338.45 L62.78 338.49 L63.25 338.52 L63.72 338.56 L64.18 338.6 L64.65 338.63 L65.12 338.67 L65.59 338.71 L66.06 338.75 L66.52 338.79 L66.99 338.82 L67.46 338.86 L67.93 338.9 L68.4 338.94 L68.86 338.98 L69.33 339.02 L69.8 339.06 L70.27 339.1 L70.74 339.14 L71.2 339.18 L71.67 339.22 L72.14 339.26 L72.61 339.3 L73.08 339.34 L73.54 339.37 L74.01 339.41 L74.48 339.45 L74.95 339.49 L75.42 339.53 L75.88 339.57 L76.35 339.61 L76.82 339.65 L77.29 339.69 L77.76 339.73 L78.22 339.77 L78.69 339.81 L79.16 339.84 L79.63 339.88 L80.1 339.92 L80.56 339.96 L81.03 339.99 L81.5 340.03 L81.97 340.07 L82.44 340.11 L82.9 340.14 L83.37 340.18 L83.84 340.21 L84.31 340.25 L84.78 340.28 L85.24 340.32 L85.71 340.35 L86.18 340.39 L86.65 340.43 L87.12 340.46 L87.58 340.5 L88.05 340.54 L88.52 340.57 L88.99 340.61 L89.46 340.65 L89.92 340.69 L90.39 340.73 L90.86 340.76 L91.33 340.8 L91.8 340.84 L92.26 340.88 L92.73 340.92 L93.2 340.96 L93.67 341 L94.14 341.04 L94.6 341.07 L95.07 341.11 L95.54 341.15 L96.01 341.19 L96.48 341.23 L96.94 341.27 L97.41 341.31 L97.88 341.35 L98.35 341.39 L98.82 341.43 L99.28 341.47 L99.75 341.51 L100.22 341.55 L100.69 341.59 L101.16 341.63 L101.62 341.67 L102.09 341.71 L102.56 341.74 L103.03 341.78 L103.5 341.82 L103.96 341.86 L104.43 341.9 L104.9 341.94 L105.37 341.98 L105.84 342.02 L106.3 342.05 L106.77 342.09 L107.24 342.13 L107.71 342.17 L108.18 342.2 L108.64 342.24 L109.11 342.28 L109.58 342.32 L110.05 342.35 L110.52 342.39 L110.98 342.42 L111.45 342.46 L111.92 342.5 L112.39 342.53 L112.86 342.57 L113.32 342.6 L113.79 342.63 L114.26 342.67 L114.73 342.7 L115.2 342.73 L115.66 342.77 L116.13 342.8 L116.6 342.83 L117.07 342.86 L117.54 342.9 L118 342.93 L118.47 342.96 L118.94 342.99 L119.41 343.02 L119.88 343.05 L120.34 343.07 L120.81 343.1 L121.28 343.13 L121.75 343.16 L122.22 343.18 L122.68 343.22 L123.15 343.28 L123.62 343.33 L124.09 343.38 L124.56 343.43 L125.02 343.48 L125.49 343.53 L125.96 343.58 L126.43 343.63 L126.9 343.67 L127.36 343.71 L127.83 343.76 L128.3 343.8 L128.77 343.84 L129.24 343.88 L129.7 343.91 L130.17 343.95 L130.64 343.99 L131.11 344.02 L131.58 344.05 L132.04 344.09 L132.51 344.12 L132.98 344.15 L133.45 344.18 L133.92 344.21 L134.38 344.23 L134.85 344.26 L135.32 344.29 L135.79 344.31 L136.26 344.34 L136.72 344.36 L137.19 344.38 L137.66 344.4 L138.13 344.42 L138.6 344.44 L139.06 344.46 L139.53 344.48 L140 344.5" fill="none" stroke="#2f3ff0" stroke-width="1.3" stroke-linejoin="round" stroke-linecap="butt"/>
</g>
<line x1="45.9" y1="233.4" x2="202.8" y2="233.4" stroke="#9a9a9a" stroke-width="1"/>
<line x1="45.9" y1="343" x2="202.8" y2="343" stroke="#b8b8b8" stroke-width="1.2"/>
<line x1="46.4" y1="232.9" x2="46.4" y2="343.5" stroke="#7a7a7a" stroke-width="1"/>
<line x1="202.3" y1="232.9" x2="202.3" y2="343.5" stroke="#808080" stroke-width="1.1"/>
<line x1="44.3" x2="46.4" y1="233.4" y2="233.4" stroke="#444" stroke-width="0.8"/>
<text transform="translate(43.2 236.1) scale(1 1.06)" font-size="8.5" text-anchor="end">0</text>
<line x1="44.3" x2="46.4" y1="255.4" y2="255.4" stroke="#444" stroke-width="0.8"/>
<text transform="translate(43.2 258.1) scale(1 1.06)" font-size="8.5" text-anchor="end">-5</text>
<line x1="44.3" x2="46.4" y1="277.4" y2="277.4" stroke="#444" stroke-width="0.8"/>
<text transform="translate(43.2 280.1) scale(1 1.06)" font-size="8.5" text-anchor="end">-10</text>
<line x1="44.3" x2="46.4" y1="299.4" y2="299.4" stroke="#444" stroke-width="0.8"/>
<text transform="translate(43.2 302.1) scale(1 1.06)" font-size="8.5" text-anchor="end">-15</text>
<line x1="44.3" x2="46.4" y1="321.4" y2="321.4" stroke="#444" stroke-width="0.8"/>
<text transform="translate(43.2 324.1) scale(1 1.06)" font-size="8.5" text-anchor="end">-20</text>
<line x1="46.4" x2="46.4" y1="343" y2="345.2" stroke="#555" stroke-width="0.8"/>
<text transform="translate(47 353) scale(1 1.06)" font-size="8.5" text-anchor="middle">1530</text>
<line x1="85.38" x2="85.38" y1="343" y2="345.2" stroke="#555" stroke-width="0.8"/>
<text transform="translate(85.97 353) scale(1 1.06)" font-size="8.5" text-anchor="middle">1540</text>
<line x1="124.35" x2="124.35" y1="343" y2="345.2" stroke="#555" stroke-width="0.8"/>
<text transform="translate(124.95 353) scale(1 1.06)" font-size="8.5" text-anchor="middle">1550</text>
<line x1="163.33" x2="163.33" y1="343" y2="345.2" stroke="#555" stroke-width="0.8"/>
<text transform="translate(163.93 353) scale(1 1.06)" font-size="8.5" text-anchor="middle">1560</text>
<line x1="202.3" x2="202.3" y1="343" y2="345.2" stroke="#555" stroke-width="0.8"/>
<text transform="translate(202.9 353) scale(1 1.06)" font-size="8.5" text-anchor="middle">1570</text>
<text transform="translate(125.95 362) scale(1 1.06)" font-size="8.65" text-anchor="middle">Wavelength(nm)</text>
<text transform="translate(27.8 289) rotate(-90) scale(1 1.06)" font-size="8.8" text-anchor="middle">Transmission(dB)</text>
<line x1="53" x2="69.5" y1="248.3" y2="248.3" stroke="#111" stroke-width="1.3"/>
<text transform="translate(72.1 251.45) scale(1 1.06)" font-size="9">TE<tspan dy="2.25" font-size="6.12">0</tspan><tspan dy="-2.25" font-size="9">-TE</tspan><tspan dy="2.25" font-size="6.12">0</tspan></text>
<line x1="53" x2="69.5" y1="261.3" y2="261.3" stroke="#f82a32" stroke-width="1.3"/>
<text transform="translate(72.1 264.45) scale(1 1.06)" font-size="9">TE<tspan dy="2.25" font-size="6.12">0</tspan><tspan dy="-2.25" font-size="9">-TE</tspan><tspan dy="2.25" font-size="6.12">1</tspan></text>
<line x1="53" x2="69.5" y1="274.3" y2="274.3" stroke="#2f3ff0" stroke-width="1.3"/>
<text transform="translate(72.1 277.45) scale(1 1.06)" font-size="9">TE<tspan dy="2.25" font-size="6.12">0</tspan><tspan dy="-2.25" font-size="9">-TE</tspan><tspan dy="2.25" font-size="6.12">2</tspan></text>
<polygon points="195.5,319.2 197.05,323.12 201.22,322.5 198.6,325.8 201.22,329.1 197.05,328.48 195.5,332.4 193.95,328.48 189.78,329.1 192.4,325.8 189.78,322.5 193.95,323.12" fill="#3b8fd0"/>
<text transform="translate(152.3 315.6) scale(1 1.06)" font-size="8.6">21.0 dB</text>
<text transform="translate(17 230.6) scale(1 1.06)" font-size="9.5" font-weight="bold" text-anchor="middle">e</text>
</g>
<g id="pf">
<rect x="273.3" y="228" width="169.5" height="119.5" fill="#fff"/>
<clipPath id="cp_pf"><rect x="273.3" y="227" width="169.5" height="120.5"/></clipPath>
<g clip-path="url(#cp_pf)">
<path d="M273.3 231.3 L442.8 231.3" fill="none" stroke="#f82a32" stroke-width="1.4" stroke-linejoin="round" stroke-linecap="butt"/>
<path d="M273.3 332.5 L274.15 332.47 L275 332.44 L275.84 332.41 L276.69 332.37 L277.54 332.33 L278.38 332.28 L279.23 332.23 L280.08 332.18 L280.93 332.13 L281.78 332.08 L282.62 332.03 L283.47 331.97 L284.32 331.92 L285.17 331.87 L286.01 331.81 L286.86 331.76 L287.71 331.72 L288.56 331.67 L289.4 331.63 L290.25 331.59 L291.1 331.57 L291.94 331.54 L292.79 331.52 L293.64 331.49 L294.49 331.47 L295.34 331.45 L296.18 331.42 L297.03 331.4 L297.88 331.38 L298.73 331.36 L299.57 331.33 L300.42 331.31 L301.27 331.29 L302.12 331.27 L302.96 331.25 L303.81 331.23 L304.66 331.21 L305.5 331.19 L306.35 331.17 L307.2 331.16 L308.05 331.14 L308.89 331.12 L309.74 331.1 L310.59 331.08 L311.44 331.07 L312.29 331.05 L313.13 331.03 L313.98 331.02 L314.83 331 L315.68 330.99 L316.52 330.98 L317.37 330.98 L318.22 330.97 L319.06 330.96 L319.91 330.95 L320.76 330.95 L321.61 330.94 L322.46 330.93 L323.3 330.92 L324.15 330.92 L325 330.91 L325.85 330.91 L326.69 330.9 L327.54 330.89 L328.39 330.89 L329.24 330.88 L330.08 330.88 L330.93 330.87 L331.78 330.87 L332.62 330.86 L333.47 330.86 L334.32 330.85 L335.17 330.85 L336.01 330.84 L336.86 330.84 L337.71 330.83 L338.56 330.83 L339.41 330.82 L340.25 330.82 L341.1 330.81 L341.95 330.81 L342.8 330.8 L343.64 330.8 L344.49 330.79 L345.34 330.79 L346.19 330.78 L347.03 330.78 L347.88 330.77 L348.73 330.77 L349.58 330.76 L350.42 330.76 L351.27 330.75 L352.12 330.74 L352.97 330.74 L353.81 330.73 L354.66 330.73 L355.51 330.72 L356.36 330.71 L357.2 330.71 L358.05 330.7 L358.9 330.69 L359.75 330.69 L360.59 330.68 L361.44 330.67 L362.29 330.67 L363.13 330.66 L363.98 330.65 L364.83 330.65 L365.68 330.64 L366.52 330.63 L367.37 330.63 L368.22 330.62 L369.07 330.61 L369.92 330.61 L370.76 330.6 L371.61 330.59 L372.46 330.59 L373.31 330.58 L374.15 330.57 L375 330.56 L375.85 330.56 L376.69 330.55 L377.54 330.54 L378.39 330.54 L379.24 330.53 L380.09 330.52 L380.93 330.51 L381.78 330.51 L382.63 330.5 L383.48 330.49 L384.32 330.48 L385.17 330.47 L386.02 330.47 L386.87 330.46 L387.71 330.45 L388.56 330.44 L389.41 330.43 L390.25 330.42 L391.1 330.41 L391.95 330.4 L392.8 330.39 L393.64 330.38 L394.49 330.37 L395.34 330.36 L396.19 330.35 L397.04 330.34 L397.88 330.33 L398.73 330.32 L399.58 330.31 L400.43 330.29 L401.27 330.28 L402.12 330.27 L402.97 330.25 L403.81 330.24 L404.66 330.23 L405.51 330.21 L406.36 330.2 L407.21 330.18 L408.05 330.16 L408.9 330.15 L409.75 330.13 L410.6 330.11 L411.44 330.09 L412.29 330.08 L413.14 330.06 L413.99 330.04 L414.83 330.02 L415.68 330 L416.53 329.98 L417.38 329.96 L418.22 329.95 L419.07 329.93 L419.92 329.91 L420.76 329.89 L421.61 329.87 L422.46 329.85 L423.31 329.83 L424.15 329.81 L425 329.8 L425.85 329.78 L426.7 329.76 L427.55 329.74 L428.39 329.73 L429.24 329.71 L430.09 329.69 L430.94 329.67 L431.78 329.66 L432.63 329.64 L433.48 329.63 L434.33 329.61 L435.17 329.6 L436.02 329.59 L436.87 329.57 L437.72 329.56 L438.56 329.55 L439.41 329.54 L440.26 329.53 L441.11 329.52 L441.95 329.51 L442.8 329.5" fill="none" stroke="#111" stroke-width="1.85" stroke-linejoin="round" stroke-linecap="butt"/>
<path d="M273.3 333.3 L274.15 333.32 L275 333.35 L275.84 333.37 L276.69 333.4 L277.54 333.42 L278.38 333.45 L279.23 333.48 L280.08 333.51 L280.93 333.54 L281.78 333.57 L282.62 333.6 L283.47 333.63 L284.32 333.67 L285.17 333.7 L286.01 333.73 L286.86 333.77 L287.71 333.81 L288.56 333.84 L289.4 333.88 L290.25 333.92 L291.1 333.96 L291.94 334 L292.79 334.03 L293.64 334.08 L294.49 334.12 L295.34 334.16 L296.18 334.2 L297.03 334.24 L297.88 334.29 L298.73 334.33 L299.57 334.37 L300.42 334.42 L301.27 334.46 L302.12 334.51 L302.96 334.56 L303.81 334.6 L304.66 334.65 L305.5 334.7 L306.35 334.74 L307.2 334.79 L308.05 334.84 L308.89 334.89 L309.74 334.94 L310.59 334.99 L311.44 335.04 L312.29 335.09 L313.13 335.14 L313.98 335.19 L314.83 335.24 L315.68 335.29 L316.52 335.34 L317.37 335.39 L318.22 335.44 L319.06 335.49 L319.91 335.55 L320.76 335.6 L321.61 335.65 L322.46 335.7 L323.3 335.76 L324.15 335.81 L325 335.86 L325.85 335.91 L326.69 335.96 L327.54 336.02 L328.39 336.07 L329.24 336.12 L330.08 336.18 L330.93 336.23 L331.78 336.28 L332.62 336.33 L333.47 336.38 L334.32 336.44 L335.17 336.49 L336.01 336.54 L336.86 336.59 L337.71 336.64 L338.56 336.7 L339.41 336.75 L340.25 336.8 L341.1 336.85 L341.95 336.9 L342.8 336.95 L343.64 337 L344.49 337.05 L345.34 337.1 L346.19 337.15 L347.03 337.2 L347.88 337.25 L348.73 337.3 L349.58 337.34 L350.42 337.39 L351.27 337.44 L352.12 337.49 L352.97 337.53 L353.81 337.58 L354.66 337.62 L355.51 337.67 L356.36 337.71 L357.2 337.76 L358.05 337.8 L358.9 337.85 L359.75 337.89 L360.59 337.93 L361.44 337.98 L362.29 338.02 L363.13 338.07 L363.98 338.12 L364.83 338.16 L365.68 338.21 L366.52 338.25 L367.37 338.3 L368.22 338.35 L369.07 338.39 L369.92 338.44 L370.76 338.49 L371.61 338.54 L372.46 338.58 L373.31 338.63 L374.15 338.68 L375 338.73 L375.85 338.78 L376.69 338.83 L377.54 338.87 L378.39 338.92 L379.24 338.97 L380.09 339.02 L380.93 339.07 L381.78 339.12 L382.63 339.17 L383.48 339.22 L384.32 339.27 L385.17 339.31 L386.02 339.36 L386.87 339.41 L387.71 339.46 L388.56 339.51 L389.41 339.56 L390.25 339.61 L391.1 339.66 L391.95 339.7 L392.8 339.75 L393.64 339.8 L394.49 339.85 L395.34 339.9 L396.19 339.95 L397.04 339.99 L397.88 340.04 L398.73 340.09 L399.58 340.14 L400.43 340.18 L401.27 340.23 L402.12 340.28 L402.97 340.32 L403.81 340.37 L404.66 340.41 L405.51 340.46 L406.36 340.5 L407.21 340.55 L408.05 340.59 L408.9 340.64 L409.75 340.68 L410.6 340.73 L411.44 340.77 L412.29 340.81 L413.14 340.85 L413.99 340.9 L414.83 340.94 L415.68 340.98 L416.53 341.02 L417.38 341.06 L418.22 341.1 L419.07 341.14 L419.92 341.18 L420.76 341.22 L421.61 341.25 L422.46 341.29 L423.31 341.33 L424.15 341.36 L425 341.4 L425.85 341.43 L426.7 341.47 L427.55 341.5 L428.39 341.54 L429.24 341.57 L430.09 341.6 L430.94 341.63 L431.78 341.66 L432.63 341.69 L433.48 341.72 L434.33 341.75 L435.17 341.78 L436.02 341.81 L436.87 341.83 L437.72 341.86 L438.56 341.89 L439.41 341.91 L440.26 341.93 L441.11 341.96 L441.95 341.98 L442.8 342" fill="none" stroke="#2f3ff0" stroke-width="1.4" stroke-linejoin="round" stroke-linecap="butt"/>
</g>
<line x1="272.8" y1="228" x2="443.3" y2="228" stroke="#9a9a9a" stroke-width="1"/>
<line x1="272.8" y1="347.5" x2="443.3" y2="347.5" stroke="#b8b8b8" stroke-width="1.2"/>
<line x1="273.3" y1="227.5" x2="273.3" y2="348" stroke="#7a7a7a" stroke-width="1"/>
<line x1="442.8" y1="227.5" x2="442.8" y2="348" stroke="#808080" stroke-width="1.1"/>
<line x1="271.2" x2="273.3" y1="228" y2="228" stroke="#444" stroke-width="0.8"/>
<text transform="translate(270.1 230.94) scale(1 1.08)" font-size="9" text-anchor="end">0</text>
<line x1="271.2" x2="273.3" y1="252" y2="252" stroke="#444" stroke-width="0.8"/>
<text transform="translate(270.1 254.94) scale(1 1.08)" font-size="9" text-anchor="end">-5</text>
<line x1="271.2" x2="273.3" y1="276" y2="276" stroke="#444" stroke-width="0.8"/>
<text transform="translate(270.1 278.94) scale(1 1.08)" font-size="9" text-anchor="end">-10</text>
<line x1="271.2" x2="273.3" y1="300" y2="300" stroke="#444" stroke-width="0.8"/>
<text transform="translate(270.1 302.94) scale(1 1.08)" font-size="9" text-anchor="end">-15</text>
<line x1="271.2" x2="273.3" y1="324" y2="324" stroke="#444" stroke-width="0.8"/>
<text transform="translate(270.1 326.94) scale(1 1.08)" font-size="9" text-anchor="end">-20</text>
<line x1="273.3" x2="273.3" y1="347.5" y2="349.7" stroke="#555" stroke-width="0.8"/>
<text transform="translate(273.3 358.8) scale(1 1.08)" font-size="9" text-anchor="middle">1530</text>
<line x1="315.68" x2="315.68" y1="347.5" y2="349.7" stroke="#555" stroke-width="0.8"/>
<text transform="translate(315.68 358.8) scale(1 1.08)" font-size="9" text-anchor="middle">1540</text>
<line x1="358.05" x2="358.05" y1="347.5" y2="349.7" stroke="#555" stroke-width="0.8"/>
<text transform="translate(358.05 358.8) scale(1 1.08)" font-size="9" text-anchor="middle">1550</text>
<line x1="400.43" x2="400.43" y1="347.5" y2="349.7" stroke="#555" stroke-width="0.8"/>
<text transform="translate(400.43 358.8) scale(1 1.08)" font-size="9" text-anchor="middle">1560</text>
<line x1="442.8" x2="442.8" y1="347.5" y2="349.7" stroke="#555" stroke-width="0.8"/>
<text transform="translate(442.8 358.8) scale(1 1.08)" font-size="9" text-anchor="middle">1570</text>
<text transform="translate(359.05 368.2) scale(1 1.08)" font-size="9.15" text-anchor="middle">Wavelength(nm)</text>
<line x1="280" x2="298.3" y1="245" y2="245" stroke="#111" stroke-width="1.4"/>
<text transform="translate(301.6 248.29) scale(1 1.08)" font-size="9.4">TE<tspan dy="2.35" font-size="6.39">1</tspan><tspan dy="-2.35" font-size="9.4">-TE</tspan><tspan dy="2.35" font-size="6.39">0</tspan></text>
<line x1="280" x2="298.3" y1="258.8" y2="258.8" stroke="#f82a32" stroke-width="1.4"/>
<text transform="translate(301.6 262.09) scale(1 1.08)" font-size="9.4">TE<tspan dy="2.35" font-size="6.39">1</tspan><tspan dy="-2.35" font-size="9.4">-TE</tspan><tspan dy="2.35" font-size="6.39">1</tspan></text>
<line x1="280" x2="298.3" y1="272.5" y2="272.5" stroke="#2f3ff0" stroke-width="1.4"/>
<text transform="translate(301.6 275.79) scale(1 1.08)" font-size="9.4">TE<tspan dy="2.35" font-size="6.39">1</tspan><tspan dy="-2.35" font-size="9.4">-TE</tspan><tspan dy="2.35" font-size="6.39">2</tspan></text>
<polygon points="434.8,322.7 436.35,326.62 440.52,326 437.9,329.3 440.52,332.6 436.35,331.98 434.8,335.9 433.25,331.98 429.08,332.6 431.7,329.3 429.08,326 433.25,326.62" fill="#3b8fd0"/>
<text transform="translate(391.5 322.5) scale(1 1.08)" font-size="9.1">20.1 dB</text>
<text transform="translate(246.3 231.5) scale(1 1.08)" font-size="9.5" font-weight="bold" text-anchor="middle">f</text>
</g>
<g id="pg">
<rect x="498.3" y="228" width="170" height="119.5" fill="#fff"/>
<clipPath id="cp_pg"><rect x="498.3" y="227" width="170" height="120.5"/></clipPath>
<g clip-path="url(#cp_pg)">
<path d="M498.3 232.2 L499.15 232.2 L500 232.2 L500.85 232.2 L501.7 232.2 L502.55 232.2 L503.4 232.2 L504.25 232.2 L505.1 232.2 L505.95 232.2 L506.8 232.2 L507.65 232.19 L508.5 232.19 L509.35 232.19 L510.2 232.19 L511.05 232.19 L511.9 232.19 L512.75 232.19 L513.6 232.19 L514.45 232.19 L515.3 232.19 L516.15 232.19 L517 232.19 L517.85 232.19 L518.7 232.19 L519.55 232.19 L520.4 232.19 L521.25 232.19 L522.1 232.19 L522.95 232.19 L523.8 232.19 L524.65 232.19 L525.5 232.19 L526.35 232.19 L527.2 232.18 L528.05 232.18 L528.9 232.18 L529.75 232.18 L530.6 232.18 L531.45 232.18 L532.3 232.18 L533.15 232.18 L534 232.18 L534.85 232.18 L535.7 232.18 L536.55 232.18 L537.4 232.18 L538.25 232.18 L539.1 232.18 L539.95 232.18 L540.8 232.17 L541.65 232.17 L542.5 232.17 L543.35 232.17 L544.2 232.17 L545.05 232.17 L545.9 232.17 L546.75 232.17 L547.6 232.17 L548.45 232.17 L549.3 232.17 L550.15 232.17 L551 232.16 L551.85 232.16 L552.7 232.16 L553.55 232.16 L554.4 232.16 L555.25 232.16 L556.1 232.16 L556.95 232.16 L557.8 232.15 L558.65 232.15 L559.5 232.15 L560.35 232.15 L561.2 232.15 L562.05 232.15 L562.9 232.15 L563.75 232.15 L564.6 232.14 L565.45 232.14 L566.3 232.14 L567.15 232.14 L568 232.14 L568.85 232.14 L569.7 232.13 L570.55 232.13 L571.4 232.13 L572.25 232.13 L573.1 232.13 L573.95 232.12 L574.8 232.12 L575.65 232.12 L576.5 232.12 L577.35 232.12 L578.2 232.11 L579.05 232.11 L579.9 232.11 L580.75 232.11 L581.6 232.1 L582.45 232.1 L583.3 232.1 L584.15 232.1 L585 232.09 L585.85 232.09 L586.7 232.09 L587.55 232.09 L588.4 232.08 L589.25 232.08 L590.1 232.08 L590.95 232.07 L591.8 232.07 L592.65 232.07 L593.5 232.06 L594.35 232.06 L595.2 232.06 L596.05 232.05 L596.9 232.05 L597.75 232.04 L598.6 232.04 L599.45 232.04 L600.3 232.03 L601.15 232.03 L602 232.02 L602.85 232.02 L603.7 232.01 L604.55 232.01 L605.4 232.01 L606.25 232 L607.1 232 L607.95 231.99 L608.8 231.99 L609.65 231.98 L610.5 231.98 L611.35 231.97 L612.2 231.97 L613.05 231.97 L613.9 231.96 L614.75 231.96 L615.6 231.95 L616.45 231.95 L617.3 231.94 L618.15 231.94 L619 231.93 L619.85 231.93 L620.7 231.92 L621.55 231.92 L622.4 231.91 L623.25 231.91 L624.1 231.9 L624.95 231.9 L625.8 231.89 L626.65 231.89 L627.5 231.88 L628.35 231.88 L629.2 231.87 L630.05 231.87 L630.9 231.86 L631.75 231.86 L632.6 231.85 L633.45 231.85 L634.3 231.84 L635.15 231.84 L636 231.84 L636.85 231.83 L637.7 231.83 L638.55 231.82 L639.4 231.82 L640.25 231.81 L641.1 231.81 L641.95 231.8 L642.8 231.8 L643.65 231.8 L644.5 231.79 L645.35 231.79 L646.2 231.78 L647.05 231.78 L647.9 231.77 L648.75 231.77 L649.6 231.77 L650.45 231.76 L651.3 231.76 L652.15 231.76 L653 231.75 L653.85 231.75 L654.7 231.74 L655.55 231.74 L656.4 231.74 L657.25 231.73 L658.1 231.73 L658.95 231.73 L659.8 231.73 L660.65 231.72 L661.5 231.72 L662.35 231.72 L663.2 231.71 L664.05 231.71 L664.9 231.71 L665.75 231.71 L666.6 231.7 L667.45 231.7 L668.3 231.7" fill="none" stroke="#2f3ff0" stroke-width="1.4" stroke-linejoin="round" stroke-linecap="butt"/>
<path d="M498.3 325.8 L499.15 325.82 L500 325.85 L500.85 325.87 L501.7 325.9 L502.55 325.93 L503.4 325.96 L504.25 326 L505.1 326.03 L505.95 326.06 L506.8 326.1 L507.65 326.14 L508.5 326.18 L509.35 326.22 L510.2 326.26 L511.05 326.3 L511.9 326.34 L512.75 326.39 L513.6 326.43 L514.45 326.48 L515.3 326.52 L516.15 326.57 L517 326.62 L517.85 326.67 L518.7 326.72 L519.55 326.77 L520.4 326.82 L521.25 326.87 L522.1 326.92 L522.95 326.97 L523.8 327.02 L524.65 327.07 L525.5 327.13 L526.35 327.18 L527.2 327.23 L528.05 327.28 L528.9 327.34 L529.75 327.39 L530.6 327.44 L531.45 327.49 L532.3 327.54 L533.15 327.6 L534 327.65 L534.85 327.7 L535.7 327.75 L536.55 327.8 L537.4 327.85 L538.25 327.9 L539.1 327.95 L539.95 328 L540.8 328.04 L541.65 328.09 L542.5 328.14 L543.35 328.19 L544.2 328.24 L545.05 328.29 L545.9 328.34 L546.75 328.39 L547.6 328.44 L548.45 328.49 L549.3 328.54 L550.15 328.59 L551 328.64 L551.85 328.69 L552.7 328.75 L553.55 328.8 L554.4 328.85 L555.25 328.91 L556.1 328.96 L556.95 329.01 L557.8 329.06 L558.65 329.12 L559.5 329.17 L560.35 329.22 L561.2 329.28 L562.05 329.33 L562.9 329.38 L563.75 329.43 L564.6 329.48 L565.45 329.54 L566.3 329.59 L567.15 329.64 L568 329.69 L568.85 329.74 L569.7 329.79 L570.55 329.84 L571.4 329.89 L572.25 329.94 L573.1 329.99 L573.95 330.03 L574.8 330.08 L575.65 330.13 L576.5 330.17 L577.35 330.22 L578.2 330.26 L579.05 330.31 L579.9 330.35 L580.75 330.39 L581.6 330.43 L582.45 330.47 L583.3 330.51 L584.15 330.55 L585 330.59 L585.85 330.63 L586.7 330.67 L587.55 330.7 L588.4 330.74 L589.25 330.77 L590.1 330.81 L590.95 330.84 L591.8 330.87 L592.65 330.91 L593.5 330.94 L594.35 330.97 L595.2 331 L596.05 331.03 L596.9 331.06 L597.75 331.09 L598.6 331.12 L599.45 331.15 L600.3 331.17 L601.15 331.2 L602 331.23 L602.85 331.26 L603.7 331.28 L604.55 331.31 L605.4 331.34 L606.25 331.36 L607.1 331.39 L607.95 331.42 L608.8 331.45 L609.65 331.47 L610.5 331.5 L611.35 331.53 L612.2 331.55 L613.05 331.58 L613.9 331.61 L614.75 331.64 L615.6 331.66 L616.45 331.69 L617.3 331.72 L618.15 331.75 L619 331.78 L619.85 331.81 L620.7 331.84 L621.55 331.87 L622.4 331.9 L623.25 331.93 L624.1 331.97 L624.95 332 L625.8 332.03 L626.65 332.06 L627.5 332.1 L628.35 332.13 L629.2 332.17 L630.05 332.21 L630.9 332.24 L631.75 332.28 L632.6 332.32 L633.45 332.36 L634.3 332.4 L635.15 332.44 L636 332.48 L636.85 332.52 L637.7 332.56 L638.55 332.6 L639.4 332.64 L640.25 332.68 L641.1 332.73 L641.95 332.77 L642.8 332.81 L643.65 332.85 L644.5 332.89 L645.35 332.93 L646.2 332.97 L647.05 333.01 L647.9 333.05 L648.75 333.09 L649.6 333.13 L650.45 333.17 L651.3 333.21 L652.15 333.25 L653 333.28 L653.85 333.32 L654.7 333.36 L655.55 333.39 L656.4 333.43 L657.25 333.46 L658.1 333.49 L658.95 333.53 L659.8 333.56 L660.65 333.59 L661.5 333.61 L662.35 333.64 L663.2 333.67 L664.05 333.69 L664.9 333.72 L665.75 333.74 L666.6 333.76 L667.45 333.78 L668.3 333.8" fill="none" stroke="#111" stroke-width="1.85" stroke-linejoin="round" stroke-linecap="butt"/>
<path d="M498.3 334.3 L499.15 334.31 L500 334.32 L500.85 334.33 L501.7 334.34 L502.55 334.35 L503.4 334.36 L504.25 334.38 L505.1 334.39 L505.95 334.4 L506.8 334.41 L507.65 334.43 L508.5 334.44 L509.35 334.45 L510.2 334.47 L511.05 334.48 L511.9 334.5 L512.75 334.51 L513.6 334.53 L514.45 334.54 L515.3 334.56 L516.15 334.57 L517 334.59 L517.85 334.6 L518.7 334.62 L519.55 334.64 L520.4 334.66 L521.25 334.67 L522.1 334.69 L522.95 334.71 L523.8 334.73 L524.65 334.74 L525.5 334.76 L526.35 334.78 L527.2 334.8 L528.05 334.82 L528.9 334.84 L529.75 334.86 L530.6 334.88 L531.45 334.9 L532.3 334.92 L533.15 334.94 L534 334.96 L534.85 334.98 L535.7 335 L536.55 335.02 L537.4 335.04 L538.25 335.06 L539.1 335.08 L539.95 335.1 L540.8 335.12 L541.65 335.14 L542.5 335.17 L543.35 335.19 L544.2 335.21 L545.05 335.23 L545.9 335.25 L546.75 335.27 L547.6 335.3 L548.45 335.32 L549.3 335.34 L550.15 335.36 L551 335.38 L551.85 335.41 L552.7 335.43 L553.55 335.45 L554.4 335.47 L555.25 335.49 L556.1 335.52 L556.95 335.54 L557.8 335.56 L558.65 335.58 L559.5 335.61 L560.35 335.63 L561.2 335.65 L562.05 335.67 L562.9 335.69 L563.75 335.72 L564.6 335.74 L565.45 335.76 L566.3 335.78 L567.15 335.81 L568 335.83 L568.85 335.85 L569.7 335.87 L570.55 335.89 L571.4 335.91 L572.25 335.94 L573.1 335.96 L573.95 335.98 L574.8 336 L575.65 336.02 L576.5 336.04 L577.35 336.06 L578.2 336.08 L579.05 336.11 L579.9 336.13 L580.75 336.15 L581.6 336.17 L582.45 336.19 L583.3 336.21 L584.15 336.23 L585 336.25 L585.85 336.27 L586.7 336.29 L587.55 336.31 L588.4 336.33 L589.25 336.35 L590.1 336.37 L590.95 336.4 L591.8 336.42 L592.65 336.44 L593.5 336.46 L594.35 336.49 L595.2 336.51 L596.05 336.53 L596.9 336.55 L597.75 336.58 L598.6 336.6 L599.45 336.62 L600.3 336.65 L601.15 336.67 L602 336.69 L602.85 336.72 L603.7 336.74 L604.55 336.77 L605.4 336.79 L606.25 336.81 L607.1 336.84 L607.95 336.86 L608.8 336.89 L609.65 336.91 L610.5 336.94 L611.35 336.96 L612.2 336.98 L613.05 337.01 L613.9 337.03 L614.75 337.06 L615.6 337.08 L616.45 337.11 L617.3 337.13 L618.15 337.16 L619 337.18 L619.85 337.2 L620.7 337.23 L621.55 337.25 L622.4 337.28 L623.25 337.3 L624.1 337.33 L624.95 337.35 L625.8 337.37 L626.65 337.4 L627.5 337.42 L628.35 337.44 L629.2 337.47 L630.05 337.49 L630.9 337.51 L631.75 337.54 L632.6 337.56 L633.45 337.58 L634.3 337.6 L635.15 337.63 L636 337.65 L636.85 337.67 L637.7 337.69 L638.55 337.71 L639.4 337.74 L640.25 337.76 L641.1 337.78 L641.95 337.8 L642.8 337.82 L643.65 337.84 L644.5 337.86 L645.35 337.88 L646.2 337.9 L647.05 337.92 L647.9 337.94 L648.75 337.96 L649.6 337.98 L650.45 337.99 L651.3 338.01 L652.15 338.03 L653 338.05 L653.85 338.06 L654.7 338.08 L655.55 338.1 L656.4 338.11 L657.25 338.13 L658.1 338.14 L658.95 338.16 L659.8 338.17 L660.65 338.19 L661.5 338.2 L662.35 338.22 L663.2 338.23 L664.05 338.24 L664.9 338.25 L665.75 338.27 L666.6 338.28 L667.45 338.29 L668.3 338.3" fill="none" stroke="#f82a32" stroke-width="1.4" stroke-linejoin="round" stroke-linecap="butt"/>
</g>
<line x1="497.8" y1="228" x2="668.8" y2="228" stroke="#9a9a9a" stroke-width="1"/>
<line x1="497.8" y1="347.5" x2="668.8" y2="347.5" stroke="#b8b8b8" stroke-width="1.2"/>
<line x1="498.3" y1="227.5" x2="498.3" y2="348" stroke="#7a7a7a" stroke-width="1"/>
<line x1="668.3" y1="227.5" x2="668.3" y2="348" stroke="#808080" stroke-width="1.1"/>
<line x1="496.2" x2="498.3" y1="228" y2="228" stroke="#444" stroke-width="0.8"/>
<text transform="translate(495.1 230.94) scale(1 1.08)" font-size="9" text-anchor="end">0</text>
<line x1="496.2" x2="498.3" y1="252" y2="252" stroke="#444" stroke-width="0.8"/>
<text transform="translate(495.1 254.94) scale(1 1.08)" font-size="9" text-anchor="end">-5</text>
<line x1="496.2" x2="498.3" y1="276" y2="276" stroke="#444" stroke-width="0.8"/>
<text transform="translate(495.1 278.94) scale(1 1.08)" font-size="9" text-anchor="end">-10</text>
<line x1="496.2" x2="498.3" y1="300" y2="300" stroke="#444" stroke-width="0.8"/>
<text transform="translate(495.1 302.94) scale(1 1.08)" font-size="9" text-anchor="end">-15</text>
<line x1="496.2" x2="498.3" y1="324" y2="324" stroke="#444" stroke-width="0.8"/>
<text transform="translate(495.1 326.94) scale(1 1.08)" font-size="9" text-anchor="end">-20</text>
<line x1="498.3" x2="498.3" y1="347.5" y2="349.7" stroke="#555" stroke-width="0.8"/>
<text transform="translate(498.3 358.8) scale(1 1.08)" font-size="9" text-anchor="middle">1530</text>
<line x1="540.8" x2="540.8" y1="347.5" y2="349.7" stroke="#555" stroke-width="0.8"/>
<text transform="translate(540.8 358.8) scale(1 1.08)" font-size="9" text-anchor="middle">1540</text>
<line x1="583.3" x2="583.3" y1="347.5" y2="349.7" stroke="#555" stroke-width="0.8"/>
<text transform="translate(583.3 358.8) scale(1 1.08)" font-size="9" text-anchor="middle">1550</text>
<line x1="625.8" x2="625.8" y1="347.5" y2="349.7" stroke="#555" stroke-width="0.8"/>
<text transform="translate(625.8 358.8) scale(1 1.08)" font-size="9" text-anchor="middle">1560</text>
<line x1="668.3" x2="668.3" y1="347.5" y2="349.7" stroke="#555" stroke-width="0.8"/>
<text transform="translate(668.3 358.8) scale(1 1.08)" font-size="9" text-anchor="middle">1570</text>
<text transform="translate(584.3 368.2) scale(1 1.08)" font-size="9.15" text-anchor="middle">Wavelength(nm)</text>
<line x1="505.5" x2="523.8" y1="245" y2="245" stroke="#111" stroke-width="1.4"/>
<text transform="translate(526.4 248.29) scale(1 1.08)" font-size="9.4">TE<tspan dy="2.35" font-size="6.39">2</tspan><tspan dy="-2.35" font-size="9.4">-TE</tspan><tspan dy="2.35" font-size="6.39">0</tspan></text>
<line x1="505.5" x2="523.8" y1="258.8" y2="258.8" stroke="#f82a32" stroke-width="1.4"/>
<text transform="translate(526.4 262.09) scale(1 1.08)" font-size="9.4">TE<tspan dy="2.35" font-size="6.39">2</tspan><tspan dy="-2.35" font-size="9.4">-TE</tspan><tspan dy="2.35" font-size="6.39">1</tspan></text>
<line x1="505.5" x2="523.8" y1="272.5" y2="272.5" stroke="#2f3ff0" stroke-width="1.4"/>
<text transform="translate(526.4 275.79) scale(1 1.08)" font-size="9.4">TE<tspan dy="2.35" font-size="6.39">2</tspan><tspan dy="-2.35" font-size="9.4">-TE</tspan><tspan dy="2.35" font-size="6.39">2</tspan></text>
<polygon points="505.5,319.2 507.05,323.12 511.22,322.5 508.6,325.8 511.22,329.1 507.05,328.48 505.5,332.4 503.95,328.48 499.78,329.1 502.4,325.8 499.78,322.5 503.95,323.12" fill="#3b8fd0"/>
<text transform="translate(516 320.8) scale(1 1.08)" font-size="9.1">20.5 dB</text>
<text transform="translate(471.8 230.7) scale(1 1.08)" font-size="9.5" font-weight="bold" text-anchor="middle">g</text>
</g>
<g id="ph">
<rect x="40.5" y="399.3" width="169.8" height="119" fill="#fff"/>
<clipPath id="cp_ph"><rect x="40.5" y="398.3" width="169.8" height="120"/></clipPath>
<g clip-path="url(#cp_ph)">
<path d="M40.5 403.8 L41.15 404.05 L41.81 404.14 L42.46 403.89 L43.11 403.86 L43.77 403.8 L44.42 403.85 L45.07 403.94 L45.72 403.59 L46.38 403.31 L47.03 403.58 L47.68 403.48 L48.34 403.59 L48.99 403.2 L49.64 403.18 L50.3 403.3 L50.95 403.06 L51.6 403.29 L52.26 403.36 L52.91 402.87 L53.56 402.54 L54.21 402.59 L54.87 402.81 L55.52 402.58 L56.17 402.32 L56.83 402.24 L57.48 401.94 L58.13 401.84 L58.79 401.87 L59.44 401.9 L60.09 401.75 L60.75 401.66 L61.4 401.58 L62.05 401.66 L62.7 401.6 L63.36 401.4 L64.01 401.72 L64.66 401.75 L65.32 401.8 L65.97 401.57 L66.62 401.87 L67.28 401.97 L67.93 401.6 L68.58 401.5 L69.24 401.64 L69.89 401.72 L70.54 401.89 L71.19 401.7 L71.85 401.81 L72.5 401.78 L73.15 401.56 L73.81 401.58 L74.46 401.76 L75.11 401.85 L75.77 401.71 L76.42 401.68 L77.07 401.35 L77.73 401.28 L78.38 401.54 L79.03 401.49 L79.68 401.33 L80.34 401.45 L80.99 401.61 L81.64 401.7 L82.3 401.59 L82.95 401.56 L83.6 401.6 L84.26 401.77 L84.91 401.74 L85.56 401.66 L86.22 401.67 L86.87 401.43 L87.52 401.3 L88.17 401.6 L88.83 401.95 L89.48 401.95 L90.13 401.85 L90.79 401.67 L91.44 401.76 L92.09 402.09 L92.75 402.19 L93.4 402.12 L94.05 402.28 L94.71 402.03 L95.36 402.05 L96.01 402.33 L96.66 402.31 L97.32 402.24 L97.97 402.12 L98.62 402.22 L99.28 402.53 L99.93 402.2 L100.58 402.46 L101.24 402.66 L101.89 402.83 L102.54 402.88 L103.2 402.97 L103.85 402.88 L104.5 402.88 L105.15 402.82 L105.81 402.61 L106.46 402.96 L107.11 403.02 L107.77 402.88 L108.42 402.99 L109.07 403.07 L109.73 403.07 L110.38 403.08 L111.03 403.2 L111.69 403.35 L112.34 403.45 L112.99 403.45 L113.64 403.23 L114.3 403.23 L114.95 403.22 L115.6 403.47 L116.26 403.79 L116.91 403.97 L117.56 404.11 L118.22 404.22 L118.87 403.99 L119.52 404.21 L120.18 404.27 L120.83 403.99 L121.48 403.82 L122.13 403.73 L122.79 404.11 L123.44 404.08 L124.09 404.01 L124.75 404.27 L125.4 404.29 L126.05 404.17 L126.71 404.17 L127.36 404.39 L128.01 404.34 L128.67 404.39 L129.32 404.68 L129.97 404.73 L130.62 404.7 L131.28 404.78 L131.93 404.6 L132.58 404.71 L133.24 404.81 L133.89 404.76 L134.54 404.7 L135.2 405.13 L135.85 405.18 L136.5 405.06 L137.16 405.23 L137.81 405.46 L138.46 405.17 L139.11 405.01 L139.77 405 L140.42 405.33 L141.07 405.23 L141.73 405.48 L142.38 405.63 L143.03 405.66 L143.69 405.51 L144.34 405.85 L144.99 405.96 L145.65 405.88 L146.3 405.67 L146.95 405.8 L147.6 405.73 L148.26 405.8 L148.91 405.7 L149.56 405.82 L150.22 405.57 L150.87 405.55 L151.52 405.92 L152.18 406.08 L152.83 405.85 L153.48 406.02 L154.14 405.81 L154.79 406.03 L155.44 406.04 L156.09 405.86 L156.75 405.65 L157.4 405.38 L158.05 405.69 L158.71 405.4 L159.36 405.65 L160.01 405.87 L160.67 405.77 L161.32 405.47 L161.97 405.67 L162.63 405.84 L163.28 405.78 L163.93 405.62 L164.58 405.45 L165.24 405.31 L165.89 405.14 L166.54 405.29 L167.2 405.24 L167.85 405.06 L168.5 404.9 L169.16 405.11 L169.81 405.02 L170.46 405.08 L171.12 405.01 L171.77 405.26 L172.42 405.43 L173.07 405.02 L173.73 404.88 L174.38 404.85 L175.03 405.2 L175.69 405.28 L176.34 405.08 L176.99 404.88 L177.65 405.01 L178.3 405.18 L178.95 405.32 L179.61 405.07 L180.26 405.22 L180.91 405.19 L181.56 405.05 L182.22 405.25 L182.87 404.94 L183.52 405.03 L184.18 404.71 L184.83 404.57 L185.48 404.9 L186.14 404.7 L186.79 404.89 L187.44 404.91 L188.1 405.05 L188.75 404.88 L189.4 404.76 L190.05 404.66 L190.71 404.92 L191.36 404.94 L192.01 405.15 L192.67 405.24 L193.32 404.88 L193.97 404.9 L194.63 404.67 L195.28 404.51 L195.93 404.43 L196.59 404.84 L197.24 405.05 L197.89 405.21 L198.54 405.04 L199.2 405.1 L199.85 405.23 L200.5 405.1 L201.16 405.14 L201.81 404.97 L202.46 404.8 L203.12 404.81 L203.77 405.18 L204.42 405.22 L205.08 405.46 L205.73 405.34 L206.38 405.18 L207.03 405.37 L207.69 405.52 L208.34 405.15 L208.99 405.31 L209.65 405.08 L210.3 404.96" fill="none" stroke="#111" stroke-width="2" stroke-linejoin="round" stroke-linecap="butt"/>
<path d="M40.5 508.18 L41.07 508.71 L41.63 507.81 L42.2 507.42 L42.76 508.42 L43.33 508.97 L43.9 509.26 L44.46 508.93 L45.03 509.17 L45.59 509.27 L46.16 509.29 L46.73 508.66 L47.29 508.67 L47.86 508.61 L48.42 509.05 L48.99 509.7 L49.56 510.01 L50.12 509.56 L50.69 509.12 L51.25 508.57 L51.82 507.87 L52.39 507.42 L52.95 507.78 L53.52 507.76 L54.08 507.83 L54.65 508.62 L55.22 508.53 L55.78 508.53 L56.35 508.03 L56.91 507.42 L57.48 507.5 L58.05 507.28 L58.61 507.72 L59.18 508.72 L59.74 508.84 L60.31 508.19 L60.88 508.88 L61.44 509.17 L62.01 509.26 L62.57 509.59 L63.14 509.59 L63.71 509.65 L64.27 509.05 L64.84 509.65 L65.4 510 L65.97 509.04 L66.54 509.36 L67.1 509.52 L67.67 509.26 L68.23 509.22 L68.8 509.16 L69.37 509.8 L69.93 509.57 L70.5 509.94 L71.06 509.47 L71.63 509.99 L72.2 510.35 L72.76 509.92 L73.33 509.84 L73.89 510.33 L74.46 510.34 L75.03 510 L75.59 509.4 L76.16 509.2 L76.72 509.65 L77.29 509.13 L77.86 509.93 L78.42 509.46 L78.99 510.15 L79.55 509.66 L80.12 510.35 L80.69 510.38 L81.25 510.11 L81.82 509.97 L82.38 510.09 L82.95 510.07 L83.52 509.65 L84.08 509.24 L84.65 509.46 L85.21 510.22 L85.78 510.22 L86.35 509.4 L86.91 510.03 L87.48 510.26 L88.04 510.68 L88.61 509.86 L89.18 510.2 L89.74 509.38 L90.31 509.78 L90.87 509.46 L91.44 509.2 L92.01 510.02 L92.57 509.36 L93.14 509.59 L93.7 510.24 L94.27 509.71 L94.84 509.35 L95.4 510.14 L95.97 509.94 L96.53 510.26 L97.1 509.43 L97.67 509.43 L98.23 509.16 L98.8 509.75 L99.36 509.23 L99.93 510.23 L100.5 509.44 L101.06 510.03 L101.63 509.33 L102.19 509.27 L102.76 510.08 L103.33 509.59 L103.89 509.35 L104.46 509.97 L105.02 509.9 L105.59 509.35 L106.16 510.45 L106.72 509.86 L107.29 509.35 L107.85 509.51 L108.42 510.02 L108.99 510.53 L109.55 509.91 L110.12 509.88 L110.68 509.41 L111.25 509.77 L111.82 510.47 L112.38 510.86 L112.95 511.35 L113.51 511.43 L114.08 511.65 L114.65 511.56 L115.21 511.16 L115.78 510.57 L116.34 510.87 L116.91 510.55 L117.48 510.04 L118.04 510.26 L118.61 511.05 L119.17 510.4 L119.74 510.71 L120.31 510.62 L120.87 510.75 L121.44 510.29 L122 511.24 L122.57 510.76 L123.14 511.01 L123.7 510.88 L124.27 510.21 L124.83 510.62 L125.4 510.24 L125.97 509.9 L126.53 509.66 L127.1 509.72 L127.66 509.66 L128.23 510.44 L128.8 510.72 L129.36 511.61 L129.93 512.07 L130.49 512.44 L131.06 511.53 L131.63 511.3 L132.19 510.88 L132.76 511.14 L133.32 511.35 L133.89 511.74 L134.46 511.84 L135.02 511.23 L135.59 511.12 L136.15 511.2 L136.72 510.48 L137.29 510.09 L137.85 510.42 L138.42 510.18 L138.98 510.95 L139.55 510.69 L140.12 510.33 L140.68 510.23 L141.25 510.25 L141.81 510.24 L142.38 510.7 L142.95 510.88 L143.51 510.77 L144.08 511.19 L144.64 510.81 L145.21 511.62 L145.78 512.19 L146.34 512.18 L146.91 511.73 L147.47 511.58 L148.04 511.59 L148.61 510.8 L149.17 510.88 L149.74 511.08 L150.3 510.69 L150.87 510.32 L151.44 511.15 L152 511 L152.57 511.13 L153.13 511.8 L153.7 511.73 L154.27 511.2 L154.83 511.92 L155.4 511.42 L155.96 510.58 L156.53 511.07 L157.1 510.48 L157.66 510.42 L158.23 511.18 L158.79 511.38 L159.36 510.5 L159.93 510.62 L160.49 510.62 L161.06 510.72 L161.62 510.36 L162.19 510.71 L162.76 510.13 L163.32 510.1 L163.89 510.21 L164.45 511.11 L165.02 510.36 L165.59 510.92 L166.15 510.41 L166.72 510.67 L167.28 510.55 L167.85 510.59 L168.42 511.05 L168.98 510.79 L169.55 510.23 L170.11 509.89 L170.68 509.64 L171.25 510.64 L171.81 510.94 L172.38 511.6 L172.94 511.61 L173.51 510.62 L174.08 510.99 L174.64 511.4 L175.21 511.57 L175.77 511.35 L176.34 511.02 L176.91 510.98 L177.47 511.49 L178.04 511.01 L178.6 511.12 L179.17 511.13 L179.74 511.86 L180.3 512.09 L180.87 512.44 L181.43 512.51 L182 511.76 L182.57 511.23 L183.13 511.31 L183.7 511.03 L184.26 511.13 L184.83 511.58 L185.4 512.22 L185.96 512.12 L186.53 512.42 L187.09 511.53 L187.66 511.39 L188.23 512.29 L188.79 511.56 L189.36 511.53 L189.92 511 L190.49 510.73 L191.06 511.8 L191.62 512.59 L192.19 512.56 L192.75 511.77 L193.32 511.56 L193.89 511.34 L194.45 511.88 L195.02 512.22 L195.58 512.08 L196.15 512.12 L196.72 511.54 L197.28 511.85 L197.85 512.66 L198.41 512.86 L198.98 512.01 L199.55 512.14 L200.11 512.53 L200.68 512.1 L201.24 512.81 L201.81 512.61 L202.38 512.88 L202.94 512.61 L203.51 513.5 L204.07 513.82 L204.64 513.81 L205.21 513.29 L205.77 513.56 L206.34 513.26 L206.9 514.09 L207.47 515.32 L208.04 515.35 L208.6 516.17 L209.17 516.89 L209.73 517.38 L210.3 518.19" fill="none" stroke="#f82a32" stroke-width="1.55" stroke-linejoin="round" stroke-linecap="butt"/>
<path d="M40.5 507.13 L41.07 507.55 L41.63 507.77 L42.2 508.41 L42.76 508.94 L43.33 508.49 L43.9 508.04 L44.46 508.77 L45.03 508.27 L45.59 507.77 L46.16 508.37 L46.73 507.82 L47.29 507.82 L47.86 507.15 L48.42 506.82 L48.99 505.8 L49.56 505.76 L50.12 505.99 L50.69 505.63 L51.25 505.65 L51.82 505.5 L52.39 504.51 L52.95 504.83 L53.52 504.74 L54.08 504.23 L54.65 503.49 L55.22 504.17 L55.78 503.98 L56.35 504.16 L56.91 504.45 L57.48 504.34 L58.05 504.52 L58.61 503.82 L59.18 503.91 L59.74 503.42 L60.31 503.76 L60.88 503.83 L61.44 502.74 L62.01 502.09 L62.57 501.76 L63.14 502.58 L63.71 502.28 L64.27 502.33 L64.84 501.87 L65.4 501.89 L65.97 501.72 L66.54 501.55 L67.1 501.77 L67.67 501.88 L68.23 502.38 L68.8 502.36 L69.37 502.68 L69.93 502.76 L70.5 502.98 L71.06 502.66 L71.63 501.74 L72.2 502.16 L72.76 502.54 L73.33 502.68 L73.89 502.28 L74.46 502.23 L75.03 501.49 L75.59 501.9 L76.16 501.78 L76.72 501.29 L77.29 500.68 L77.86 501.41 L78.42 502.02 L78.99 501.12 L79.55 501.57 L80.12 501.28 L80.69 500.74 L81.25 500.6 L81.82 501.18 L82.38 501.66 L82.95 500.78 L83.52 501.05 L84.08 500.4 L84.65 500.94 L85.21 500.72 L85.78 501.35 L86.35 501.86 L86.91 501.49 L87.48 501.95 L88.04 501.25 L88.61 500.5 L89.18 500.77 L89.74 500.14 L90.31 499.98 L90.87 500.17 L91.44 500.56 L92.01 500.15 L92.57 499.74 L93.14 500.65 L93.7 500.41 L94.27 501.16 L94.84 501.52 L95.4 501 L95.97 500.81 L96.53 500.77 L97.1 500.91 L97.67 500.93 L98.23 500.88 L98.8 500.94 L99.36 501.42 L99.93 501.1 L100.5 500.8 L101.06 501.02 L101.63 500.48 L102.19 500.25 L102.76 501.05 L103.33 500.9 L103.89 500.85 L104.46 500.06 L105.02 500.16 L105.59 500.45 L106.16 499.85 L106.72 500.32 L107.29 500.63 L107.85 500.02 L108.42 500.45 L108.99 500.48 L109.55 500.8 L110.12 500.54 L110.68 500.89 L111.25 501.14 L111.82 500.29 L112.38 499.84 L112.95 500.44 L113.51 501.2 L114.08 500.66 L114.65 500.63 L115.21 500.81 L115.78 500.54 L116.34 500.44 L116.91 500.31 L117.48 500.31 L118.04 500.63 L118.61 500.42 L119.17 500.4 L119.74 500.94 L120.31 500.22 L120.87 500.55 L121.44 500.98 L122 500.65 L122.57 500.32 L123.14 500.94 L123.7 500.52 L124.27 500.2 L124.83 500.35 L125.4 500.8 L125.97 500.23 L126.53 500.2 L127.1 500.19 L127.66 500.89 L128.23 500.74 L128.8 501.24 L129.36 500.57 L129.93 500.4 L130.49 500.73 L131.06 501.25 L131.63 500.95 L132.19 500.45 L132.76 499.99 L133.32 500.28 L133.89 499.98 L134.46 500.64 L135.02 501.08 L135.59 500.41 L136.15 500.13 L136.72 500.69 L137.29 500.79 L137.85 501.06 L138.42 500.56 L138.98 499.94 L139.55 499.79 L140.12 500.38 L140.68 499.99 L141.25 499.85 L141.81 499.85 L142.38 499.84 L142.95 499.8 L143.51 500.48 L144.08 499.8 L144.64 499.16 L145.21 500.07 L145.78 500.51 L146.34 500.91 L146.91 500.36 L147.47 500.73 L148.04 500.9 L148.61 499.99 L149.17 500.16 L149.74 500.37 L150.3 500.23 L150.87 499.93 L151.44 499.4 L152 499.13 L152.57 498.8 L153.13 498.35 L153.7 498.79 L154.27 498.6 L154.83 499.21 L155.4 498.47 L155.96 499.21 L156.53 499.34 L157.1 499.72 L157.66 499.89 L158.23 499.97 L158.79 499.54 L159.36 498.48 L159.93 498.84 L160.49 498.23 L161.06 498.02 L161.62 498.38 L162.19 498.38 L162.76 498.2 L163.32 498.8 L163.89 498.67 L164.45 498.2 L165.02 497.76 L165.59 498.32 L166.15 498.1 L166.72 498.36 L167.28 497.89 L167.85 497.36 L168.42 497.49 L168.98 497.94 L169.55 497.28 L170.11 497.72 L170.68 498.14 L171.25 498.21 L171.81 498.25 L172.38 497.1 L172.94 497.26 L173.51 497.65 L174.08 496.73 L174.64 496.46 L175.21 496.26 L175.77 496.49 L176.34 496.45 L176.91 496.48 L177.47 496.9 L178.04 496.04 L178.6 495.58 L179.17 495.38 L179.74 495.24 L180.3 495.05 L180.87 496.18 L181.43 496.66 L182 495.85 L182.57 495.92 L183.13 495.68 L183.7 495.52 L184.26 495.45 L184.83 495.8 L185.4 495.9 L185.96 495.63 L186.53 495.21 L187.09 495.13 L187.66 494.78 L188.23 495.15 L188.79 495.58 L189.36 495.35 L189.92 494.77 L190.49 494.54 L191.06 494.66 L191.62 495.03 L192.19 495.49 L192.75 495.18 L193.32 495.56 L193.89 495.52 L194.45 495.2 L195.02 494.91 L195.58 494.89 L196.15 495.14 L196.72 494.87 L197.28 495.07 L197.85 494.84 L198.41 494.38 L198.98 494.48 L199.55 494.74 L200.11 494 L200.68 494.03 L201.24 494.02 L201.81 494.63 L202.38 495.05 L202.94 494.49 L203.51 494.87 L204.07 494.92 L204.64 494.19 L205.21 494.02 L205.77 493.42 L206.34 494.01 L206.9 494.13 L207.47 494.5 L208.04 494.58 L208.6 494.44 L209.17 494.43 L209.73 494.18 L210.3 493.38" fill="none" stroke="#2f3ff0" stroke-width="1.55" stroke-linejoin="round" stroke-linecap="butt"/>
</g>
<line x1="40" y1="399.3" x2="210.8" y2="399.3" stroke="#8a8a8a" stroke-width="1"/>
<line x1="40" y1="518.3" x2="210.8" y2="518.3" stroke="#6a6a6a" stroke-width="1.2"/>
<line x1="40.5" y1="398.8" x2="40.5" y2="518.8" stroke="#969696" stroke-width="1"/>
<line x1="210.3" y1="398.8" x2="210.3" y2="518.8" stroke="#808080" stroke-width="1.1"/>
<line x1="38.4" x2="40.5" y1="399.3" y2="399.3" stroke="#444" stroke-width="0.8"/>
<text transform="translate(37.3 402.24) scale(1 1.08)" font-size="9" text-anchor="end">0</text>
<line x1="38.4" x2="40.5" y1="425.8" y2="425.8" stroke="#444" stroke-width="0.8"/>
<text transform="translate(37.3 428.74) scale(1 1.08)" font-size="9" text-anchor="end">-5</text>
<line x1="38.4" x2="40.5" y1="452.3" y2="452.3" stroke="#444" stroke-width="0.8"/>
<text transform="translate(37.3 455.24) scale(1 1.08)" font-size="9" text-anchor="end">-10</text>
<line x1="38.4" x2="40.5" y1="478.8" y2="478.8" stroke="#444" stroke-width="0.8"/>
<text transform="translate(37.3 481.74) scale(1 1.08)" font-size="9" text-anchor="end">-15</text>
<line x1="38.4" x2="40.5" y1="505.3" y2="505.3" stroke="#444" stroke-width="0.8"/>
<text transform="translate(37.3 508.24) scale(1 1.08)" font-size="9" text-anchor="end">-20</text>
<line x1="40.5" x2="40.5" y1="518.3" y2="520.5" stroke="#555" stroke-width="0.8"/>
<text transform="translate(40.5 529) scale(1 1.08)" font-size="9" text-anchor="middle">1530</text>
<line x1="82.95" x2="82.95" y1="518.3" y2="520.5" stroke="#555" stroke-width="0.8"/>
<text transform="translate(82.95 529) scale(1 1.08)" font-size="9" text-anchor="middle">1540</text>
<line x1="125.4" x2="125.4" y1="518.3" y2="520.5" stroke="#555" stroke-width="0.8"/>
<text transform="translate(125.4 529) scale(1 1.08)" font-size="9" text-anchor="middle">1550</text>
<line x1="167.85" x2="167.85" y1="518.3" y2="520.5" stroke="#555" stroke-width="0.8"/>
<text transform="translate(167.85 529) scale(1 1.08)" font-size="9" text-anchor="middle">1560</text>
<line x1="210.3" x2="210.3" y1="518.3" y2="520.5" stroke="#555" stroke-width="0.8"/>
<text transform="translate(210.3 529) scale(1 1.08)" font-size="9" text-anchor="middle">1570</text>
<text transform="translate(126.4 538.7) scale(1 1.08)" font-size="9.15" text-anchor="middle">Wavelength(nm)</text>
<text transform="translate(21.4 460) rotate(-90) scale(1 1.08)" font-size="9.3" text-anchor="middle">Transmission(dB)</text>
<line x1="48.3" x2="66.3" y1="416.3" y2="416.3" stroke="#111" stroke-width="1.55"/>
<text transform="translate(68.9 419.59) scale(1 1.08)" font-size="9.4">I<tspan dy="2.35" font-size="6.39">0</tspan><tspan dy="-2.35" dx="-0.9" font-size="12.22">→</tspan><tspan dx="-1" font-size="9.4">O</tspan><tspan dy="2.35" font-size="6.39">0</tspan></text>
<line x1="48.3" x2="66.3" y1="430" y2="430" stroke="#f82a32" stroke-width="1.55"/>
<text transform="translate(68.9 433.29) scale(1 1.08)" font-size="9.4">I<tspan dy="2.35" font-size="6.39">0</tspan><tspan dy="-2.35" dx="-0.9" font-size="12.22">→</tspan><tspan dx="-1" font-size="9.4">O</tspan><tspan dy="2.35" font-size="6.39">1</tspan></text>
<line x1="48.3" x2="66.3" y1="443.8" y2="443.8" stroke="#2f3ff0" stroke-width="1.55"/>
<text transform="translate(68.9 447.09) scale(1 1.08)" font-size="9.4">I<tspan dy="2.35" font-size="6.39">0</tspan><tspan dy="-2.35" dx="-0.9" font-size="12.22">→</tspan><tspan dx="-1" font-size="9.4">O</tspan><tspan dy="2.35" font-size="6.39">2</tspan></text>
<polygon points="205,485.9 206.55,489.82 210.72,489.2 208.1,492.5 210.72,495.8 206.55,495.18 205,499.1 203.45,495.18 199.28,495.8 201.9,492.5 199.28,489.2 203.45,489.82" fill="#3b8fd0"/>
<text transform="translate(165.5 487.7) scale(1 1.08)" font-size="9.1">16.7 dB</text>
<text transform="translate(16 402) scale(1 1.08)" font-size="9.5" font-weight="bold" text-anchor="middle">h</text>
</g>
<g id="pi">
<rect x="273.3" y="399.3" width="170" height="119" fill="#fff"/>
<clipPath id="cp_pi"><rect x="273.3" y="398.3" width="170" height="120"/></clipPath>
<g clip-path="url(#cp_pi)">
<path d="M273.3 403.14 L273.87 402.99 L274.43 403.09 L275 402.99 L275.57 402.89 L276.13 403.05 L276.7 403.44 L277.27 403.56 L277.83 403.6 L278.4 403.3 L278.97 403.34 L279.53 403.21 L280.1 403.08 L280.67 402.98 L281.23 402.99 L281.8 403.43 L282.37 403.59 L282.93 403.66 L283.5 403.7 L284.07 403.35 L284.63 403.25 L285.2 403.39 L285.77 403.53 L286.33 403.68 L286.9 403.77 L287.47 403.34 L288.03 403.44 L288.6 403.53 L289.17 403.48 L289.73 403.27 L290.3 403.34 L290.87 403.15 L291.43 403.56 L292 403.73 L292.57 403.63 L293.13 403.44 L293.7 403.71 L294.27 403.65 L294.83 403.81 L295.4 403.87 L295.97 403.71 L296.53 403.57 L297.1 403.62 L297.67 403.55 L298.23 403.36 L298.8 403.36 L299.37 403.66 L299.93 403.36 L300.5 403.23 L301.07 403.51 L301.63 403.46 L302.2 403.6 L302.77 403.64 L303.33 403.59 L303.9 403.97 L304.47 403.69 L305.03 403.7 L305.6 403.58 L306.17 403.8 L306.73 403.7 L307.3 403.71 L307.87 403.97 L308.43 403.85 L309 403.95 L309.57 404.22 L310.13 403.89 L310.7 403.71 L311.27 403.74 L311.83 404.09 L312.4 404.18 L312.97 404.02 L313.53 404.01 L314.1 403.93 L314.67 404.07 L315.23 403.9 L315.8 404.23 L316.37 404.52 L316.93 404.72 L317.5 404.7 L318.07 404.84 L318.63 404.36 L319.2 404.3 L319.77 404.69 L320.33 404.78 L320.9 404.62 L321.47 404.88 L322.03 404.83 L322.6 404.94 L323.17 404.69 L323.73 404.53 L324.3 404.61 L324.87 404.48 L325.43 404.58 L326 405 L326.57 404.84 L327.13 404.59 L327.7 404.5 L328.27 404.55 L328.83 404.95 L329.4 404.92 L329.97 404.88 L330.53 404.76 L331.1 405.24 L331.67 405.17 L332.23 405.02 L332.8 404.87 L333.37 404.81 L333.93 404.86 L334.5 405.21 L335.07 405.08 L335.63 404.97 L336.2 405.2 L336.77 405.18 L337.33 405.64 L337.9 405.36 L338.47 405.47 L339.03 405.69 L339.6 405.6 L340.17 405.91 L340.73 405.77 L341.3 405.58 L341.87 405.59 L342.43 405.39 L343 405.54 L343.57 405.52 L344.13 405.91 L344.7 406.08 L345.27 405.98 L345.83 405.67 L346.4 405.66 L346.97 405.66 L347.53 405.65 L348.1 405.67 L348.67 406.08 L349.23 405.86 L349.8 405.71 L350.37 406.17 L350.93 406.2 L351.5 406.48 L352.07 406.28 L352.63 406.49 L353.2 406.45 L353.77 406.53 L354.33 406.55 L354.9 406.42 L355.47 406.12 L356.03 406.05 L356.6 406.42 L357.17 406.63 L357.73 406.75 L358.3 406.47 L358.87 406.53 L359.43 406.64 L360 406.61 L360.57 406.7 L361.13 406.58 L361.7 406.59 L362.27 406.62 L362.83 406.39 L363.4 406.66 L363.97 406.82 L364.53 406.37 L365.1 406.68 L365.67 406.83 L366.23 406.73 L366.8 406.3 L367.37 406.6 L367.93 406.28 L368.5 406.62 L369.07 406.61 L369.63 406.23 L370.2 406.11 L370.77 406.32 L371.33 406.38 L371.9 406.51 L372.47 406.68 L373.03 406.34 L373.6 406.03 L374.17 406.42 L374.73 406.07 L375.3 406.4 L375.87 406.11 L376.43 406.37 L377 406.48 L377.57 406.59 L378.13 406.44 L378.7 406.55 L379.27 406.2 L379.83 406.3 L380.4 406.14 L380.97 406.39 L381.53 406.43 L382.1 406.27 L382.67 406.21 L383.23 405.87 L383.8 405.7 L384.37 405.94 L384.93 405.99 L385.5 406.23 L386.07 406.19 L386.63 405.87 L387.2 405.84 L387.77 406.06 L388.33 406.01 L388.9 405.67 L389.47 405.98 L390.03 406.12 L390.6 405.74 L391.17 405.81 L391.73 405.74 L392.3 405.94 L392.87 405.74 L393.43 405.59 L394 405.66 L394.57 405.97 L395.13 405.59 L395.7 405.41 L396.27 405.61 L396.83 405.86 L397.4 405.76 L397.97 405.65 L398.53 405.85 L399.1 405.89 L399.67 405.48 L400.23 405.76 L400.8 405.49 L401.37 405.41 L401.93 405.69 L402.5 405.57 L403.07 405.74 L403.63 405.44 L404.2 405.71 L404.77 405.42 L405.33 405.26 L405.9 405.38 L406.47 405.34 L407.03 405.45 L407.6 405.71 L408.17 405.73 L408.73 405.31 L409.3 405.28 L409.87 405.41 L410.43 405.43 L411 405.58 L411.57 405.52 L412.13 405.24 L412.7 405.2 L413.27 405.54 L413.83 405.42 L414.4 405.61 L414.97 405.83 L415.53 405.73 L416.1 405.71 L416.67 405.66 L417.23 405.46 L417.8 405.72 L418.37 405.58 L418.93 405.79 L419.5 405.53 L420.07 405.74 L420.63 405.8 L421.2 405.73 L421.77 405.6 L422.33 405.36 L422.9 405.62 L423.47 405.52 L424.03 405.65 L424.6 405.41 L425.17 405.27 L425.73 405.24 L426.3 405.64 L426.87 405.46 L427.43 405.82 L428 405.69 L428.57 405.76 L429.13 405.67 L429.7 405.8 L430.27 405.56 L430.83 405.64 L431.4 406.01 L431.97 405.75 L432.53 405.92 L433.1 405.82 L433.67 405.77 L434.23 405.6 L434.8 405.52 L435.37 406.07 L435.93 406.31 L436.5 406.45 L437.07 406.57 L437.63 406.75 L438.2 406.41 L438.77 406.53 L439.33 406.58 L439.9 406.69 L440.47 407 L441.03 407.09 L441.6 407.28 L442.17 406.9 L442.73 407.04 L443.3 407.15" fill="none" stroke="#f82a32" stroke-width="1.55" stroke-linejoin="round" stroke-linecap="butt"/>
<path d="M273.3 488.9 L273.87 489.08 L274.43 489.23 L275 489.45 L275.57 489.43 L276.13 489.6 L276.7 489 L277.27 489.09 L277.83 489.55 L278.4 489.58 L278.97 489.84 L279.53 489.37 L280.1 489.46 L280.67 489.36 L281.23 489.58 L281.8 489.74 L282.37 489.41 L282.93 489.43 L283.5 489.51 L284.07 490.08 L284.63 490.26 L285.2 489.88 L285.77 490.22 L286.33 489.87 L286.9 490.08 L287.47 489.79 L288.03 489.55 L288.6 490.12 L289.17 489.86 L289.73 489.74 L290.3 490.28 L290.87 490.45 L291.43 490.07 L292 490.4 L292.57 490.23 L293.13 490.25 L293.7 489.89 L294.27 490.28 L294.83 490.28 L295.4 490.49 L295.97 490.53 L296.53 490.07 L297.1 489.88 L297.67 489.62 L298.23 489.46 L298.8 489.31 L299.37 489.42 L299.93 489.7 L300.5 489.36 L301.07 489.72 L301.63 489.62 L302.2 489.54 L302.77 489.9 L303.33 489.8 L303.9 489.62 L304.47 489.66 L305.03 489.85 L305.6 489.43 L306.17 489.95 L306.73 489.46 L307.3 489.79 L307.87 490.04 L308.43 489.52 L309 489.88 L309.57 489.73 L310.13 489.84 L310.7 489.45 L311.27 489.3 L311.83 489.35 L312.4 490.01 L312.97 489.75 L313.53 490.09 L314.1 490.42 L314.67 490.61 L315.23 490.25 L315.8 490.1 L316.37 490.19 L316.93 490.46 L317.5 490.08 L318.07 490.43 L318.63 490.67 L319.2 490.87 L319.77 490.34 L320.33 490.82 L320.9 490.41 L321.47 490.43 L322.03 490.69 L322.6 491.09 L323.17 490.86 L323.73 491.24 L324.3 491.15 L324.87 490.95 L325.43 490.89 L326 490.77 L326.57 490.66 L327.13 490.69 L327.7 491.16 L328.27 491.67 L328.83 491.29 L329.4 491.03 L329.97 491.68 L330.53 491.69 L331.1 491.62 L331.67 491.49 L332.23 491.75 L332.8 492.11 L333.37 492.03 L333.93 492 L334.5 491.73 L335.07 492.33 L335.63 491.96 L336.2 492.19 L336.77 492.61 L337.33 492.3 L337.9 492.67 L338.47 493.06 L339.03 493.05 L339.6 493.2 L340.17 492.77 L340.73 492.86 L341.3 492.71 L341.87 493.23 L342.43 493.08 L343 493.17 L343.57 493.69 L344.13 493.86 L344.7 494.08 L345.27 493.8 L345.83 493.72 L346.4 493.9 L346.97 493.82 L347.53 493.66 L348.1 493.7 L348.67 493.54 L349.23 493.67 L349.8 494.25 L350.37 494.55 L350.93 494.46 L351.5 494.33 L352.07 494.17 L352.63 493.91 L353.2 493.95 L353.77 494.41 L354.33 494.72 L354.9 494.5 L355.47 494.75 L356.03 494.88 L356.6 494.91 L357.17 494.92 L357.73 495.01 L358.3 494.77 L358.87 494.93 L359.43 494.69 L360 494.75 L360.57 495.01 L361.13 495.09 L361.7 494.83 L362.27 495.22 L362.83 495.2 L363.4 495.14 L363.97 494.66 L364.53 494.86 L365.1 494.73 L365.67 495.01 L366.23 494.99 L366.8 495.27 L367.37 495.28 L367.93 495.41 L368.5 495.12 L369.07 495.22 L369.63 495.35 L370.2 495.49 L370.77 495.18 L371.33 495.43 L371.9 495.58 L372.47 495.51 L373.03 495.71 L373.6 495.8 L374.17 495.49 L374.73 495.35 L375.3 495 L375.87 495.36 L376.43 495.62 L377 495.38 L377.57 495.44 L378.13 495.49 L378.7 495.53 L379.27 495.1 L379.83 495.38 L380.4 495.35 L380.97 495.41 L381.53 495.24 L382.1 495.32 L382.67 495.48 L383.23 495.45 L383.8 495.49 L384.37 494.96 L384.93 494.8 L385.5 494.93 L386.07 495.17 L386.63 494.94 L387.2 495.19 L387.77 495.27 L388.33 494.83 L388.9 494.95 L389.47 494.81 L390.03 494.6 L390.6 494.55 L391.17 494.67 L391.73 494.61 L392.3 494.59 L392.87 494.45 L393.43 494.72 L394 494.78 L394.57 494.99 L395.13 495.08 L395.7 494.84 L396.27 495.25 L396.83 494.73 L397.4 494.79 L397.97 494.72 L398.53 494.79 L399.1 494.58 L399.67 495.06 L400.23 494.93 L400.8 494.59 L401.37 494.89 L401.93 494.62 L402.5 494.85 L403.07 494.8 L403.63 494.97 L404.2 495.36 L404.77 495.44 L405.33 495.16 L405.9 495.34 L406.47 495.29 L407.03 495.05 L407.6 494.75 L408.17 494.97 L408.73 495.05 L409.3 495.41 L409.87 495.61 L410.43 495.42 L411 495.12 L411.57 495.41 L412.13 494.85 L412.7 494.65 L413.27 494.93 L413.83 495.11 L414.4 494.83 L414.97 495.09 L415.53 495.44 L416.1 495.21 L416.67 495.14 L417.23 494.96 L417.8 494.93 L418.37 495.47 L418.93 495.28 L419.5 495.66 L420.07 495.82 L420.63 495.66 L421.2 495.33 L421.77 495.75 L422.33 495.59 L422.9 495.46 L423.47 495.34 L424.03 495.83 L424.6 495.7 L425.17 495.49 L425.73 495.55 L426.3 495.32 L426.87 495.63 L427.43 495.66 L428 495.58 L428.57 495.95 L429.13 496.19 L429.7 495.69 L430.27 495.87 L430.83 495.78 L431.4 496.28 L431.97 496.44 L432.53 496.11 L433.1 495.98 L433.67 495.85 L434.23 496.47 L434.8 496.25 L435.37 496.41 L435.93 496.4 L436.5 496.56 L437.07 496.62 L437.63 496.78 L438.2 496.38 L438.77 496.71 L439.33 496.52 L439.9 496.63 L440.47 496.54 L441.03 496.47 L441.6 496.64 L442.17 496.68 L442.73 496.63 L443.3 496.92" fill="none" stroke="#2f3ff0" stroke-width="1.55" stroke-linejoin="round" stroke-linecap="butt"/>
<path d="M273.3 513.99 L273.87 513.65 L274.43 514.07 L275 513.58 L275.57 513.87 L276.13 513.79 L276.7 513.37 L277.27 513.68 L277.83 513.25 L278.4 513.49 L278.97 513.15 L279.53 512.99 L280.1 513.28 L280.67 513.89 L281.23 513.33 L281.8 513.14 L282.37 513.51 L282.93 514.06 L283.5 513.86 L284.07 513.52 L284.63 514.02 L285.2 513.14 L285.77 513.65 L286.33 513.21 L286.9 512.79 L287.47 512.53 L288.03 512.6 L288.6 513.23 L289.17 512.75 L289.73 512.97 L290.3 513.13 L290.87 512.86 L291.43 512.92 L292 512.34 L292.57 512.02 L293.13 512.01 L293.7 512.55 L294.27 512.5 L294.83 512.31 L295.4 512.52 L295.97 512.44 L296.53 512.19 L297.1 512.64 L297.67 512.72 L298.23 512.2 L298.8 512.31 L299.37 512.29 L299.93 512.68 L300.5 512.67 L301.07 512.12 L301.63 512.66 L302.2 511.87 L302.77 511.81 L303.33 512.17 L303.9 511.61 L304.47 511.71 L305.03 511.2 L305.6 511.68 L306.17 512.01 L306.73 511.93 L307.3 512.24 L307.87 511.69 L308.43 511.86 L309 511.81 L309.57 511.74 L310.13 511.54 L310.7 511.89 L311.27 512.17 L311.83 511.73 L312.4 511.72 L312.97 510.97 L313.53 511.35 L314.1 511.46 L314.67 511.92 L315.23 511.92 L315.8 511.24 L316.37 511 L316.93 511.2 L317.5 510.5 L318.07 510.65 L318.63 510.35 L319.2 510.12 L319.77 509.91 L320.33 510.64 L320.9 510.22 L321.47 510.14 L322.03 510.25 L322.6 510.88 L323.17 510.24 L323.73 510.35 L324.3 510.53 L324.87 511.03 L325.43 511.2 L326 511.35 L326.57 510.74 L327.13 510.61 L327.7 510.5 L328.27 511.09 L328.83 511.5 L329.4 510.76 L329.97 510.44 L330.53 510.38 L331.1 510.38 L331.67 510.71 L332.23 511.03 L332.8 510.84 L333.37 510.46 L333.93 510.8 L334.5 510.95 L335.07 511.29 L335.63 511.98 L336.2 512.06 L336.77 511.95 L337.33 512.06 L337.9 512.25 L338.47 511.65 L339.03 512.43 L339.6 512.74 L340.17 513.06 L340.73 513.2 L341.3 512.87 L341.87 512.92 L342.43 512.82 L343 513.54 L343.57 513.16 L344.13 512.77 L344.7 512.41 L345.27 511.83 L345.83 511.52 L346.4 511.01 L346.97 510.96 L347.53 511.77 L348.1 512.73 L348.67 514.05 L349.23 514.63 L349.8 516 L350.37 516.17 L350.93 515.27 L351.5 514.44 L352.07 513.66 L352.63 512.98 L353.2 512.28 L353.77 513.02 L354.33 514.01 L354.9 514.46 L355.47 515.3 L356.03 515.72 L356.6 516.2 L357.17 516.7 L357.73 516.57 L358.3 516.72 L358.87 515.47 L359.43 514.23 L360 514.47 L360.57 514.1 L361.13 513.74 L361.7 514.53 L362.27 514.91 L362.83 516.28 L363.4 517.91 L363.97 518.76 L364.53 518.88 L365.1 518.06 L365.67 517.29 L366.23 516.15 L366.8 515.91 L367.37 515.32 L367.93 515.41 L368.5 515.28 L369.07 515.63 L369.63 517.12 L370.2 518.61 L370.77 519.55 L371.33 520.05 L371.9 520.14 L372.47 519.68 L373.03 518.32 L373.6 517.5 L374.17 516.56 L374.73 515.59 L375.3 515.29 L375.87 515.85 L376.43 516.69 L377 518.22 L377.57 519.8 L378.13 520.24 L378.7 521.05 L379.27 521.25 L379.83 520.85 L380.4 519.42 L380.97 518.07 L381.53 517.12 L382.1 516.59 L382.67 516.58 L383.23 517.54 L383.8 518.94 L384.37 520.14 L384.93 520.74 L385.5 521.43 L386.07 521.86 L386.63 520.88 L387.2 520.57 L387.77 520.19 L388.33 519.41 L388.9 518.75 L389.47 518.14 L390.03 517.79 L390.6 518.83 L391.17 519.38 L391.73 520.74 L392.3 521.97 L392.87 521.98 L393.43 521.81 L394 521.96 L394.57 521.22 L395.13 519.65 L395.7 518.42 L396.27 517.66 L396.83 518.3 L397.4 518.87 L397.97 518.88 L398.53 520.28 L399.1 521.64 L399.67 522.21 L400.23 522.12 L400.8 522.06 L401.37 521.06 L401.93 519.86 L402.5 519.9 L403.07 519.2 L403.63 518.62 L404.2 519.01 L404.77 519.03 L405.33 520.13 L405.9 521.18 L406.47 521.41 L407.03 521.77 L407.6 521.94 L408.17 521.64 L408.73 521.42 L409.3 520.37 L409.87 519.59 L410.43 520.09 L411 520.92 L411.57 520.7 L412.13 520.74 L412.7 520.94 L413.27 521.45 L413.83 521.15 L414.4 521.62 L414.97 521.39 L415.53 521.33 L416.1 521.32 L416.67 520.73 L417.23 520.97 L417.8 520.8 L418.37 520.52 L418.93 521.35 L419.5 521.04 L420.07 521.26 L420.63 521.67 L421.2 521.68 L421.77 521.42 L422.33 521.53 L422.9 521.64 L423.47 521.97 L424.03 521.34 L424.6 521.57 L425.17 521.32 L425.73 521.24 L426.3 521.8 L426.87 521.77 L427.43 521.83 L428 522.1 L428.57 522.43 L429.13 522.03 L429.7 522.05 L430.27 521.93 L430.83 521.89 L431.4 522.09 L431.97 521.91 L432.53 521.92 L433.1 521.86 L433.67 522.4 L434.23 522.38 L434.8 522.59 L435.37 522.77 L435.93 522.05 L436.5 522.06 L437.07 522.52 L437.63 522.64 L438.2 521.86 L438.77 521.45 L439.33 521.63 L439.9 521.29 L440.47 521.32 L441.03 521.14 L441.6 521.77 L442.17 522.22 L442.73 522.59 L443.3 521.88" fill="none" stroke="#111" stroke-width="2.2" stroke-linejoin="round" stroke-linecap="butt"/>
</g>
<line x1="272.8" y1="399.3" x2="443.8" y2="399.3" stroke="#8a8a8a" stroke-width="1"/>
<line x1="272.8" y1="518.3" x2="443.8" y2="518.3" stroke="#6a6a6a" stroke-width="1.2"/>
<line x1="273.3" y1="398.8" x2="273.3" y2="518.8" stroke="#969696" stroke-width="1"/>
<line x1="443.3" y1="398.8" x2="443.3" y2="518.8" stroke="#808080" stroke-width="1.1"/>
<line x1="271.2" x2="273.3" y1="399.3" y2="399.3" stroke="#444" stroke-width="0.8"/>
<text transform="translate(270.1 402.24) scale(1 1.08)" font-size="9" text-anchor="end">0</text>
<line x1="271.2" x2="273.3" y1="425.8" y2="425.8" stroke="#444" stroke-width="0.8"/>
<text transform="translate(270.1 428.74) scale(1 1.08)" font-size="9" text-anchor="end">-5</text>
<line x1="271.2" x2="273.3" y1="452.3" y2="452.3" stroke="#444" stroke-width="0.8"/>
<text transform="translate(270.1 455.24) scale(1 1.08)" font-size="9" text-anchor="end">-10</text>
<line x1="271.2" x2="273.3" y1="478.8" y2="478.8" stroke="#444" stroke-width="0.8"/>
<text transform="translate(270.1 481.74) scale(1 1.08)" font-size="9" text-anchor="end">-15</text>
<line x1="271.2" x2="273.3" y1="505.3" y2="505.3" stroke="#444" stroke-width="0.8"/>
<text transform="translate(270.1 508.24) scale(1 1.08)" font-size="9" text-anchor="end">-20</text>
<line x1="273.3" x2="273.3" y1="518.3" y2="520.5" stroke="#555" stroke-width="0.8"/>
<text transform="translate(273.3 529) scale(1 1.08)" font-size="9" text-anchor="middle">1530</text>
<line x1="315.8" x2="315.8" y1="518.3" y2="520.5" stroke="#555" stroke-width="0.8"/>
<text transform="translate(315.8 529) scale(1 1.08)" font-size="9" text-anchor="middle">1540</text>
<line x1="358.3" x2="358.3" y1="518.3" y2="520.5" stroke="#555" stroke-width="0.8"/>
<text transform="translate(358.3 529) scale(1 1.08)" font-size="9" text-anchor="middle">1550</text>
<line x1="400.8" x2="400.8" y1="518.3" y2="520.5" stroke="#555" stroke-width="0.8"/>
<text transform="translate(400.8 529) scale(1 1.08)" font-size="9" text-anchor="middle">1560</text>
<line x1="443.3" x2="443.3" y1="518.3" y2="520.5" stroke="#555" stroke-width="0.8"/>
<text transform="translate(443.3 529) scale(1 1.08)" font-size="9" text-anchor="middle">1570</text>
<text transform="translate(359.3 538.7) scale(1 1.08)" font-size="9.15" text-anchor="middle">Wavelength(nm)</text>
<line x1="280.8" x2="298.3" y1="416.3" y2="416.3" stroke="#111" stroke-width="1.55"/>
<text transform="translate(301.4 419.59) scale(1 1.08)" font-size="9.4">I<tspan dy="2.35" font-size="6.39">1</tspan><tspan dy="-2.35" dx="-0.9" font-size="12.22">→</tspan><tspan dx="-1" font-size="9.4">O</tspan><tspan dy="2.35" font-size="6.39">0</tspan></text>
<line x1="280.8" x2="298.3" y1="430" y2="430" stroke="#f82a32" stroke-width="1.55"/>
<text transform="translate(301.4 433.29) scale(1 1.08)" font-size="9.4">I<tspan dy="2.35" font-size="6.39">1</tspan><tspan dy="-2.35" dx="-0.9" font-size="12.22">→</tspan><tspan dx="-1" font-size="9.4">O</tspan><tspan dy="2.35" font-size="6.39">1</tspan></text>
<line x1="280.8" x2="298.3" y1="443.8" y2="443.8" stroke="#2f3ff0" stroke-width="1.55"/>
<text transform="translate(301.4 447.09) scale(1 1.08)" font-size="9.4">I<tspan dy="2.35" font-size="6.39">1</tspan><tspan dy="-2.35" dx="-0.9" font-size="12.22">→</tspan><tspan dx="-1" font-size="9.4">O</tspan><tspan dy="2.35" font-size="6.39">2</tspan></text>
<polygon points="293.8,481.7 295.35,485.62 299.52,485 296.9,488.3 299.52,491.6 295.35,490.98 293.8,494.9 292.25,490.98 288.08,491.6 290.7,488.3 288.08,485 292.25,485.62" fill="#3b8fd0"/>
<text transform="translate(310.5 481.5) scale(1 1.08)" font-size="9.1">15.9 dB</text>
<text transform="translate(248.6 401.6) scale(1 1.08)" font-size="9.5" font-weight="bold" text-anchor="middle">i</text>
</g>
<g id="pj">
<rect x="498.5" y="399.3" width="169.8" height="118.7" fill="#fff"/>
<clipPath id="cp_pj"><rect x="498.5" y="398.3" width="169.8" height="119.7"/></clipPath>
<g clip-path="url(#cp_pj)">
<path d="M498.5 409.39 L499.07 409.6 L499.63 409.36 L500.2 409.45 L500.76 409.22 L501.33 409.15 L501.9 409.39 L502.46 409.17 L503.03 409.21 L503.59 409.13 L504.16 409.06 L504.73 409.01 L505.29 408.84 L505.86 408.97 L506.42 408.72 L506.99 408.62 L507.56 408.45 L508.12 408.43 L508.69 408.45 L509.25 408.63 L509.82 408.48 L510.39 408.27 L510.95 408.19 L511.52 408.42 L512.08 408.13 L512.65 408.19 L513.22 408.09 L513.78 408.14 L514.35 408.01 L514.91 408.06 L515.48 408 L516.05 408.01 L516.61 408.09 L517.18 407.99 L517.74 407.75 L518.31 407.57 L518.88 407.82 L519.44 407.75 L520.01 407.57 L520.57 407.77 L521.14 407.7 L521.71 407.71 L522.27 407.75 L522.84 407.52 L523.4 407.42 L523.97 407.56 L524.54 407.31 L525.1 407.43 L525.67 407.2 L526.23 407.31 L526.8 407.36 L527.37 407.47 L527.93 407.46 L528.5 407.31 L529.06 407.11 L529.63 406.97 L530.2 407.05 L530.76 407.07 L531.33 406.89 L531.89 407.13 L532.46 407.08 L533.03 407.13 L533.59 406.96 L534.16 406.88 L534.72 406.74 L535.29 406.8 L535.86 406.8 L536.42 406.87 L536.99 406.88 L537.55 407.07 L538.12 407.19 L538.69 406.97 L539.25 406.94 L539.82 406.85 L540.38 407 L540.95 407.21 L541.52 407.01 L542.08 407.14 L542.65 407.03 L543.21 406.87 L543.78 407.09 L544.35 407.05 L544.91 406.96 L545.48 407.04 L546.04 407.01 L546.61 407.07 L547.18 407.13 L547.74 407.16 L548.31 407.26 L548.87 407.2 L549.44 407.1 L550.01 407.07 L550.57 407.07 L551.14 407.25 L551.7 407.3 L552.27 407.51 L552.84 407.51 L553.4 407.61 L553.97 407.78 L554.53 407.52 L555.1 407.38 L555.67 407.37 L556.23 407.48 L556.8 407.62 L557.36 407.78 L557.93 407.71 L558.5 407.94 L559.06 407.68 L559.63 407.9 L560.19 407.78 L560.76 408 L561.33 407.79 L561.89 408.08 L562.46 408.16 L563.02 408.31 L563.59 408.23 L564.16 408.06 L564.72 408.3 L565.29 408.23 L565.85 408.07 L566.42 408.22 L566.99 408.27 L567.55 408.31 L568.12 408.22 L568.68 408.18 L569.25 408.36 L569.82 408.42 L570.38 408.34 L570.95 408.45 L571.51 408.63 L572.08 408.74 L572.65 408.72 L573.21 408.69 L573.78 408.68 L574.34 408.65 L574.91 408.63 L575.48 408.75 L576.04 408.69 L576.61 408.92 L577.17 409.05 L577.74 409.09 L578.31 408.89 L578.87 408.95 L579.44 409.02 L580 408.93 L580.57 409.26 L581.14 409.35 L581.7 409.31 L582.27 409.38 L582.83 409.23 L583.4 409.19 L583.97 409.3 L584.53 409.46 L585.1 409.52 L585.66 409.31 L586.23 409.46 L586.8 409.67 L587.36 409.73 L587.93 409.84 L588.49 409.94 L589.06 409.7 L589.63 409.62 L590.19 409.69 L590.76 409.92 L591.32 409.8 L591.89 409.99 L592.46 410.05 L593.02 409.97 L593.59 409.98 L594.15 410.13 L594.72 410.15 L595.29 409.98 L595.85 410.12 L596.42 409.95 L596.98 409.94 L597.55 410.19 L598.12 410.27 L598.68 410.12 L599.25 410.04 L599.81 410.14 L600.38 410.29 L600.95 410.31 L601.51 410.44 L602.08 410.42 L602.64 410.46 L603.21 410.4 L603.78 410.29 L604.34 410.26 L604.91 410.28 L605.47 410.32 L606.04 410.47 L606.61 410.33 L607.17 410.18 L607.74 410.38 L608.3 410.31 L608.87 410.34 L609.44 410.23 L610 410.48 L610.57 410.38 L611.13 410.35 L611.7 410.54 L612.27 410.52 L612.83 410.43 L613.4 410.63 L613.96 410.55 L614.53 410.49 L615.1 410.7 L615.66 410.75 L616.23 410.75 L616.79 410.56 L617.36 410.69 L617.93 410.67 L618.49 410.76 L619.06 410.62 L619.62 410.72 L620.19 410.77 L620.76 410.64 L621.32 410.68 L621.89 410.75 L622.45 410.88 L623.02 410.91 L623.59 410.87 L624.15 410.59 L624.72 410.64 L625.28 410.69 L625.85 410.48 L626.42 410.52 L626.98 410.7 L627.55 410.8 L628.11 410.85 L628.68 410.54 L629.25 410.59 L629.81 410.71 L630.38 410.68 L630.94 410.53 L631.51 410.33 L632.08 410.58 L632.64 410.67 L633.21 410.63 L633.77 410.48 L634.34 410.59 L634.91 410.63 L635.47 410.61 L636.04 410.54 L636.6 410.38 L637.17 410.29 L637.74 410.26 L638.3 410.23 L638.87 410.28 L639.43 410.14 L640 410.3 L640.57 410.23 L641.13 410.11 L641.7 410.08 L642.26 410.12 L642.83 410.14 L643.4 410.29 L643.96 410.09 L644.53 410.03 L645.09 410.03 L645.66 409.98 L646.23 410.18 L646.79 410.02 L647.36 409.91 L647.92 410.06 L648.49 410.2 L649.06 410.3 L649.62 410.24 L650.19 410.12 L650.75 410.27 L651.32 410.29 L651.89 410.19 L652.45 410.18 L653.02 410.31 L653.58 410.4 L654.15 410.42 L654.72 410.11 L655.28 410.03 L655.85 410.01 L656.41 409.91 L656.98 410.09 L657.55 409.9 L658.11 410.14 L658.68 410.13 L659.24 410.13 L659.81 410.06 L660.38 410.22 L660.94 410.16 L661.51 410.26 L662.07 410.31 L662.64 410.25 L663.21 410.33 L663.77 410.17 L664.34 410.04 L664.9 410.16 L665.47 410.1 L666.04 409.98 L666.6 410.06 L667.17 410.02 L667.73 409.86 L668.3 410.07" fill="none" stroke="#2f3ff0" stroke-width="1.55" stroke-linejoin="round" stroke-linecap="butt"/>
<path d="M498.5 500.46 L499.07 500.28 L499.63 499.87 L500.2 500.51 L500.76 499.75 L501.33 499.92 L501.9 500.44 L502.46 499.66 L503.03 499.79 L503.59 499.87 L504.16 499.17 L504.73 499.16 L505.29 499.47 L505.86 499.23 L506.42 499.35 L506.99 498.63 L507.56 498.27 L508.12 497.84 L508.69 497.99 L509.25 498.45 L509.82 498.15 L510.39 498.1 L510.95 497.46 L511.52 497.42 L512.08 496.48 L512.65 496.08 L513.22 496.18 L513.78 496.13 L514.35 495.59 L514.91 494.77 L515.48 494.58 L516.05 494.36 L516.61 494.27 L517.18 494.8 L517.74 494.26 L518.31 494.76 L518.88 494.93 L519.44 493.96 L520.01 493.8 L520.57 493.79 L521.14 493.16 L521.71 493.26 L522.27 493.82 L522.84 493.09 L523.4 493.24 L523.97 492.68 L524.54 492.89 L525.1 493.31 L525.67 492.63 L526.23 491.99 L526.8 491.71 L527.37 492.06 L527.93 491.56 L528.5 491.34 L529.06 491.67 L529.63 492.29 L530.2 491.95 L530.76 491.71 L531.33 491.83 L531.89 491.18 L532.46 491.39 L533.03 490.96 L533.59 491.22 L534.16 491.72 L534.72 490.84 L535.29 490.95 L535.86 491.02 L536.42 490.45 L536.99 490.27 L537.55 490.99 L538.12 491.31 L538.69 490.37 L539.25 490.55 L539.82 490.88 L540.38 490.15 L540.95 490.19 L541.52 489.48 L542.08 489.46 L542.65 489.78 L543.21 489.79 L543.78 489.96 L544.35 489.18 L544.91 489.05 L545.48 489.55 L546.04 489.42 L546.61 489.15 L547.18 488.9 L547.74 489.44 L548.31 489.16 L548.87 488.31 L549.44 488.77 L550.01 488.4 L550.57 488.29 L551.14 487.93 L551.7 487.98 L552.27 487.82 L552.84 487.42 L553.4 487.83 L553.97 487.37 L554.53 487.92 L555.1 487.24 L555.67 487.75 L556.23 487.99 L556.8 487.7 L557.36 487.77 L557.93 487.21 L558.5 487.48 L559.06 487.21 L559.63 486.81 L560.19 487.45 L560.76 487.07 L561.33 486.81 L561.89 487.24 L562.46 486.83 L563.02 486.95 L563.59 486.38 L564.16 486.87 L564.72 486.38 L565.29 485.7 L565.85 486.22 L566.42 485.35 L566.99 485.71 L567.55 486.05 L568.12 485.75 L568.68 484.87 L569.25 484.48 L569.82 484.44 L570.38 484.63 L570.95 484.97 L571.51 485.55 L572.08 485.1 L572.65 484.6 L573.21 484.84 L573.78 484.44 L574.34 484.17 L574.91 484.58 L575.48 484.94 L576.04 484.35 L576.61 484.51 L577.17 484.88 L577.74 485.12 L578.31 484.77 L578.87 485.19 L579.44 484.52 L580 484.83 L580.57 485.04 L581.14 485.26 L581.7 484.89 L582.27 484.22 L582.83 483.81 L583.4 484.17 L583.97 483.91 L584.53 484.32 L585.1 483.86 L585.66 484.45 L586.23 484.07 L586.8 483.61 L587.36 483.57 L587.93 483.87 L588.49 484.13 L589.06 484.04 L589.63 483.73 L590.19 483.93 L590.76 484.58 L591.32 484.4 L591.89 484.78 L592.46 483.86 L593.02 484.55 L593.59 484.76 L594.15 484.44 L594.72 484.24 L595.29 484.14 L595.85 484.53 L596.42 483.7 L596.98 483.96 L597.55 483.96 L598.12 483.66 L598.68 484.01 L599.25 484.17 L599.81 483.49 L600.38 483.86 L600.95 483.74 L601.51 483.71 L602.08 483.86 L602.64 483.23 L603.21 483.56 L603.78 483.44 L604.34 483.97 L604.91 483.46 L605.47 483.9 L606.04 483.99 L606.61 483.91 L607.17 484.16 L607.74 483.26 L608.3 483.48 L608.87 483.6 L609.44 483.73 L610 483.46 L610.57 482.91 L611.13 482.77 L611.7 483.19 L612.27 482.89 L612.83 482.58 L613.4 482.77 L613.96 483 L614.53 483.18 L615.1 482.65 L615.66 483.28 L616.23 483.06 L616.79 483.48 L617.36 482.75 L617.93 483.51 L618.49 483.45 L619.06 483.87 L619.62 484.09 L620.19 484 L620.76 483.08 L621.32 482.91 L621.89 482.67 L622.45 483.2 L623.02 482.75 L623.59 482.55 L624.15 482.31 L624.72 482.2 L625.28 483.11 L625.85 483.61 L626.42 483.12 L626.98 483.31 L627.55 483.07 L628.11 483.01 L628.68 482.78 L629.25 482.98 L629.81 482.59 L630.38 482.42 L630.94 482.63 L631.51 482.35 L632.08 482.49 L632.64 483.15 L633.21 482.37 L633.77 482.07 L634.34 482.75 L634.91 482.19 L635.47 482.13 L636.04 482.81 L636.6 482.85 L637.17 482.4 L637.74 481.97 L638.3 482.01 L638.87 482.05 L639.43 482.66 L640 483.17 L640.57 483.18 L641.13 483.32 L641.7 483.42 L642.26 483.39 L642.83 483.43 L643.4 483.49 L643.96 482.46 L644.53 482.21 L645.09 481.99 L645.66 482.31 L646.23 482.32 L646.79 482.14 L647.36 482.64 L647.92 482.35 L648.49 481.97 L649.06 481.85 L649.62 482.01 L650.19 482.26 L650.75 482.32 L651.32 482.19 L651.89 481.81 L652.45 481.87 L653.02 481.8 L653.58 481.57 L654.15 481.9 L654.72 481.63 L655.28 482.11 L655.85 482.28 L656.41 481.73 L656.98 482.03 L657.55 481.83 L658.11 481.86 L658.68 482.05 L659.24 482.33 L659.81 482.6 L660.38 482.55 L660.94 481.9 L661.51 481.96 L662.07 481.73 L662.64 481.23 L663.21 481.62 L663.77 481.71 L664.34 482.22 L664.9 481.82 L665.47 482.23 L666.04 482.04 L666.6 481.45 L667.17 481.89 L667.73 481.59 L668.3 481.73" fill="none" stroke="#111" stroke-width="2" stroke-linejoin="round" stroke-linecap="butt"/>
<path d="M498.5 494.59 L499.07 494.47 L499.63 494.57 L500.2 494.19 L500.76 494.69 L501.33 495 L501.9 494.97 L502.46 494.37 L503.03 494.44 L503.59 494.24 L504.16 494.04 L504.73 494.75 L505.29 495.24 L505.86 494.39 L506.42 494.86 L506.99 494.84 L507.56 494.57 L508.12 494.3 L508.69 494.62 L509.25 494.56 L509.82 494.81 L510.39 494.95 L510.95 494.42 L511.52 494.89 L512.08 495.44 L512.65 495.78 L513.22 495.58 L513.78 494.81 L514.35 494.32 L514.91 494.21 L515.48 495.14 L516.05 494.97 L516.61 494.97 L517.18 495.64 L517.74 495.38 L518.31 495.55 L518.88 495.55 L519.44 495.15 L520.01 495.57 L520.57 496.18 L521.14 495.77 L521.71 495.65 L522.27 495.85 L522.84 495.58 L523.4 496.01 L523.97 496.72 L524.54 497 L525.1 497.08 L525.67 497.63 L526.23 497.22 L526.8 497.51 L527.37 497.38 L527.93 497.49 L528.5 496.95 L529.06 497.56 L529.63 497.41 L530.2 497.74 L530.76 498.94 L531.33 499.81 L531.89 499.49 L532.46 499.03 L533.03 498.43 L533.59 498.21 L534.16 498.8 L534.72 499.03 L535.29 499.44 L535.86 500.25 L536.42 500.31 L536.99 500.69 L537.55 500.9 L538.12 500.88 L538.69 500.65 L539.25 500.68 L539.82 501.19 L540.38 501.25 L540.95 502.21 L541.52 502.19 L542.08 501.89 L542.65 501.17 L543.21 501.1 L543.78 501.36 L544.35 501.61 L544.91 502.7 L545.48 503.37 L546.04 503.3 L546.61 503.42 L547.18 503.68 L547.74 503.13 L548.31 502.85 L548.87 502.21 L549.44 502.67 L550.01 503.28 L550.57 503.78 L551.14 504.11 L551.7 504.3 L552.27 504.07 L552.84 503.66 L553.4 503 L553.97 503.15 L554.53 504.21 L555.1 504.53 L555.67 504.48 L556.23 504.36 L556.8 504.7 L557.36 504.04 L557.93 503.5 L558.5 503.21 L559.06 503.68 L559.63 504.97 L560.19 505.45 L560.76 505.86 L561.33 505.99 L561.89 505.9 L562.46 505.51 L563.02 505.45 L563.59 505.69 L564.16 505.87 L564.72 506.03 L565.29 506.71 L565.85 507.57 L566.42 507.06 L566.99 506.58 L567.55 506.48 L568.12 506.38 L568.68 506.37 L569.25 506.6 L569.82 507.4 L570.38 507.75 L570.95 508.43 L571.51 508.89 L572.08 508.27 L572.65 508.16 L573.21 507.84 L573.78 508 L574.34 507.42 L574.91 508.49 L575.48 509.21 L576.04 509.93 L576.61 510.23 L577.17 509.3 L577.74 508.98 L578.31 508.12 L578.87 508.33 L579.44 509.2 L580 509.22 L580.57 509.65 L581.14 509.6 L581.7 509.53 L582.27 509.22 L582.83 508.71 L583.4 509.49 L583.97 510.05 L584.53 510.25 L585.1 511.07 L585.66 511.72 L586.23 511.88 L586.8 511.67 L587.36 511.56 L587.93 511.21 L588.49 510.71 L589.06 510.79 L589.63 511.54 L590.19 512.35 L590.76 512.51 L591.32 513.04 L591.89 513.46 L592.46 513.45 L593.02 513.05 L593.59 512.19 L594.15 512.4 L594.72 512.5 L595.29 512.85 L595.85 513.44 L596.42 513.93 L596.98 514.34 L597.55 514.18 L598.12 513.54 L598.68 513.76 L599.25 513.97 L599.81 514.46 L600.38 514.79 L600.95 515.32 L601.51 515.39 L602.08 515.63 L602.64 515.24 L603.21 514.88 L603.78 514.84 L604.34 515.14 L604.91 515.93 L605.47 516.69 L606.04 517.27 L606.61 516.96 L607.17 516.94 L607.74 516.87 L608.3 516.79 L608.87 516.56 L609.44 515.95 L610 516.84 L610.57 517.54 L611.13 516.93 L611.7 516.69 L612.27 516.2 L612.83 516.14 L613.4 515.88 L613.96 515.48 L614.53 515.42 L615.1 515.65 L615.66 515.82 L616.23 516.66 L616.79 517.05 L617.36 516.08 L617.93 515.88 L618.49 515.97 L619.06 515.29 L619.62 515.64 L620.19 515.96 L620.76 516.89 L621.32 517.2 L621.89 516.06 L622.45 515.27 L623.02 515.36 L623.59 515.11 L624.15 515.13 L624.72 515.81 L625.28 516.44 L625.85 517.13 L626.42 516.65 L626.98 515.74 L627.55 515.67 L628.11 514.7 L628.68 514.81 L629.25 515.51 L629.81 515.71 L630.38 516.34 L630.94 516.26 L631.51 516.04 L632.08 516.14 L632.64 516.25 L633.21 516.36 L633.77 515.39 L634.34 516.17 L634.91 516.49 L635.47 516.73 L636.04 516.96 L636.6 517.12 L637.17 516.63 L637.74 515.85 L638.3 516.17 L638.87 516.32 L639.43 516.62 L640 517.26 L640.57 517.74 L641.13 517.08 L641.7 517.49 L642.26 517.76 L642.83 517.38 L643.4 517.44 L643.96 517.38 L644.53 517.07 L645.09 517.19 L645.66 516.97 L646.23 517.8 L646.79 517.45 L647.36 517.81 L647.92 517.99 L648.49 518.62 L649.06 518.83 L649.62 518.49 L650.19 518.33 L650.75 517.86 L651.32 517.61 L651.89 517.8 L652.45 518.72 L653.02 518.22 L653.58 518.12 L654.15 518.64 L654.72 518.66 L655.28 518.51 L655.85 519.37 L656.41 518.84 L656.98 519.22 L657.55 519.29 L658.11 519.27 L658.68 519.12 L659.24 519.03 L659.81 519.31 L660.38 519.93 L660.94 520 L661.51 520.44 L662.07 520.87 L662.64 520.31 L663.21 520.86 L663.77 520.86 L664.34 520.7 L664.9 520.74 L665.47 521.24 L666.04 520.97 L666.6 520.47 L667.17 521.23 L667.73 520.69 L668.3 520.37" fill="none" stroke="#f82a32" stroke-width="1.55" stroke-linejoin="round" stroke-linecap="butt"/>
</g>
<line x1="498" y1="399.3" x2="668.8" y2="399.3" stroke="#8a8a8a" stroke-width="1"/>
<line x1="498" y1="518" x2="668.8" y2="518" stroke="#6a6a6a" stroke-width="1.2"/>
<line x1="498.5" y1="398.8" x2="498.5" y2="518.5" stroke="#969696" stroke-width="1"/>
<line x1="668.3" y1="398.8" x2="668.3" y2="518.5" stroke="#808080" stroke-width="1.1"/>
<line x1="496.4" x2="498.5" y1="399.3" y2="399.3" stroke="#444" stroke-width="0.8"/>
<text transform="translate(495.3 402.24) scale(1 1.08)" font-size="9" text-anchor="end">0</text>
<line x1="496.4" x2="498.5" y1="421.3" y2="421.3" stroke="#444" stroke-width="0.8"/>
<text transform="translate(495.3 424.24) scale(1 1.08)" font-size="9" text-anchor="end">-5</text>
<line x1="496.4" x2="498.5" y1="443.3" y2="443.3" stroke="#444" stroke-width="0.8"/>
<text transform="translate(495.3 446.24) scale(1 1.08)" font-size="9" text-anchor="end">-10</text>
<line x1="496.4" x2="498.5" y1="465.3" y2="465.3" stroke="#444" stroke-width="0.8"/>
<text transform="translate(495.3 468.24) scale(1 1.08)" font-size="9" text-anchor="end">-15</text>
<line x1="496.4" x2="498.5" y1="487.3" y2="487.3" stroke="#444" stroke-width="0.8"/>
<text transform="translate(495.3 490.24) scale(1 1.08)" font-size="9" text-anchor="end">-20</text>
<line x1="496.4" x2="498.5" y1="509.3" y2="509.3" stroke="#444" stroke-width="0.8"/>
<text transform="translate(495.3 512.24) scale(1 1.08)" font-size="9" text-anchor="end">-25</text>
<line x1="498.5" x2="498.5" y1="518" y2="520.2" stroke="#555" stroke-width="0.8"/>
<text transform="translate(498.5 529) scale(1 1.08)" font-size="9" text-anchor="middle">1530</text>
<line x1="540.95" x2="540.95" y1="518" y2="520.2" stroke="#555" stroke-width="0.8"/>
<text transform="translate(540.95 529) scale(1 1.08)" font-size="9" text-anchor="middle">1540</text>
<line x1="583.4" x2="583.4" y1="518" y2="520.2" stroke="#555" stroke-width="0.8"/>
<text transform="translate(583.4 529) scale(1 1.08)" font-size="9" text-anchor="middle">1550</text>
<line x1="625.85" x2="625.85" y1="518" y2="520.2" stroke="#555" stroke-width="0.8"/>
<text transform="translate(625.85 529) scale(1 1.08)" font-size="9" text-anchor="middle">1560</text>
<line x1="668.3" x2="668.3" y1="518" y2="520.2" stroke="#555" stroke-width="0.8"/>
<text transform="translate(668.3 529) scale(1 1.08)" font-size="9" text-anchor="middle">1570</text>
<text transform="translate(584.4 538.7) scale(1 1.08)" font-size="9.15" text-anchor="middle">Wavelength(nm)</text>
<line x1="506" x2="524.3" y1="416.3" y2="416.3" stroke="#111" stroke-width="1.55"/>
<text transform="translate(526.6 419.59) scale(1 1.08)" font-size="9.4">I<tspan dy="2.35" font-size="6.39">2</tspan><tspan dy="-2.35" dx="-0.9" font-size="12.22">→</tspan><tspan dx="-1" font-size="9.4">O</tspan><tspan dy="2.35" font-size="6.39">0</tspan></text>
<line x1="506" x2="524.3" y1="430" y2="430" stroke="#f82a32" stroke-width="1.55"/>
<text transform="translate(526.6 433.29) scale(1 1.08)" font-size="9.4">I<tspan dy="2.35" font-size="6.39">2</tspan><tspan dy="-2.35" dx="-0.9" font-size="12.22">→</tspan><tspan dx="-1" font-size="9.4">O</tspan><tspan dy="2.35" font-size="6.39">1</tspan></text>
<line x1="506" x2="524.3" y1="443.8" y2="443.8" stroke="#2f3ff0" stroke-width="1.55"/>
<text transform="translate(526.6 447.09) scale(1 1.08)" font-size="9.4">I<tspan dy="2.35" font-size="6.39">2</tspan><tspan dy="-2.35" dx="-0.9" font-size="12.22">→</tspan><tspan dx="-1" font-size="9.4">O</tspan><tspan dy="2.35" font-size="6.39">2</tspan></text>
<polygon points="657,474.7 658.55,478.62 662.72,478 660.1,481.3 662.72,484.6 658.55,483.98 657,487.9 655.45,483.98 651.28,484.6 653.9,481.3 651.28,478 655.45,478.62" fill="#3b8fd0"/>
<text transform="translate(613 475.7) scale(1 1.08)" font-size="9.1">16.1 dB</text>
<text transform="translate(475 401.6) scale(1 1.08)" font-size="9.5" font-weight="bold" text-anchor="middle">j</text>
</g>
</svg>
</body></html>
